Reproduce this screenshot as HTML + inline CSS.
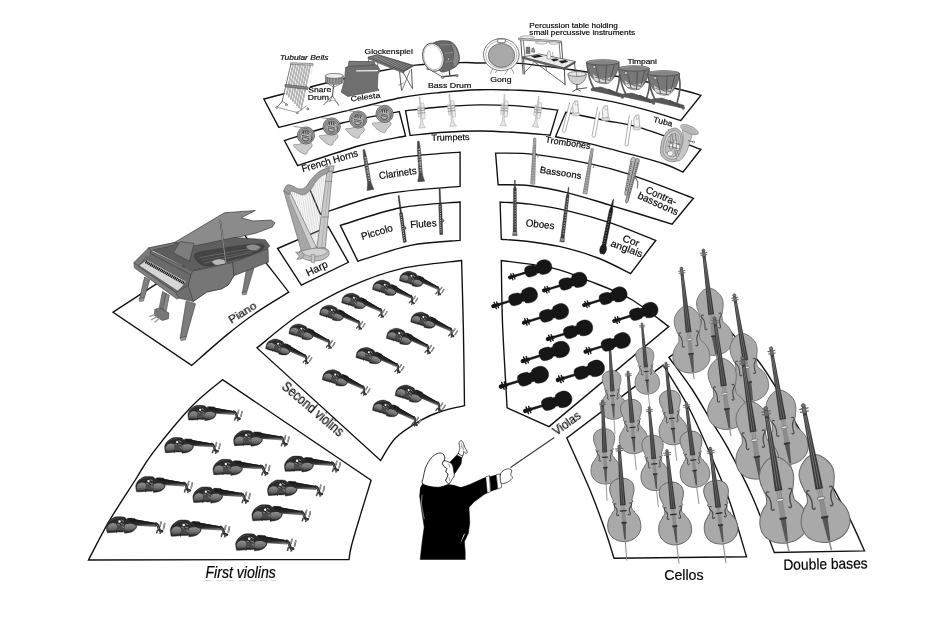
<!DOCTYPE html>
<html><head><meta charset="utf-8"><title>Orchestra layout</title>
<style>html,body{margin:0;padding:0;background:#fff;}body{width:933px;height:621px;overflow:hidden;font-family:"Liberation Sans",sans-serif;}svg{display:block;}</style>
</head><body>
<svg width="933" height="621" viewBox="0 0 933 621" font-family="'Liberation Sans', sans-serif">
<rect width="933" height="621" fill="#fff"/>
<g id="boxes" fill="none" stroke="#111" stroke-width="1.38" stroke-linejoin="miter">
<path d="M278.8 127.4C289.5 124.8 322.6 116.5 342.9 111.6 C363.2 106.7 384.4 101.0 400.6 97.8 C416.8 94.6 426.8 93.8 440.0 92.5 C453.2 91.2 466.7 90.2 480.0 89.8 C493.3 89.4 507.4 89.8 520.0 90.3 C532.5 90.8 541.0 91.2 555.3 92.9 C569.5 94.6 590.9 97.7 605.5 100.4 C620.1 103.1 630.7 105.9 643.2 109.2 C655.8 112.5 674.5 118.6 680.8 120.5L700.9 95.4C698.4 94.7 696.0 93.5 685.9 91.0 C675.8 88.5 658.4 84.0 640.0 80.5 C621.6 77.0 595.6 73.1 575.4 70.3 C555.2 67.5 534.8 64.6 518.9 63.4 C503.0 62.2 489.7 63.1 480.0 63.0 C470.3 62.9 471.6 62.2 460.9 62.6 C450.2 63.0 430.0 63.5 415.7 65.1 C401.4 66.7 389.3 69.2 375.0 72.0 C360.7 74.8 348.5 77.5 330.0 82.0 C311.5 86.5 274.8 96.2 263.8 99.0Z"/>
<path d="M284.4 140.5C294.0 137.6 322.9 127.8 342.0 123.0 C361.1 118.2 389.8 113.5 399.3 111.6L405.6 136.0C398.1 137.6 378.4 140.6 360.4 145.5 C342.4 150.4 308.1 162.2 297.7 165.6Z"/>
<path d="M405.6 110.8C411.3 110.2 427.6 108.0 440.0 107.0 C452.4 106.0 466.7 105.1 480.0 104.9 C493.3 104.8 507.1 105.2 520.0 106.1 C533.0 107.0 551.4 109.4 557.7 110.1L550.1 135.2C545.1 134.8 531.7 133.4 520.0 132.7 C508.3 132.0 492.5 131.1 480.0 131.0 C467.5 130.9 456.6 131.5 445.0 132.2 C433.4 132.9 415.9 134.9 410.1 135.4Z"/>
<path d="M565.8 112.3C572.4 113.7 593.1 118.0 605.5 120.5 C617.9 123.0 624.1 122.8 640.0 127.6 C655.9 132.4 690.8 145.7 700.9 149.3L682.9 172.2C680.0 170.9 673.9 167.3 665.8 164.5 C657.6 161.7 646.5 158.6 634.0 155.2 C621.5 151.8 603.6 146.9 590.5 143.8 C577.4 140.7 561.3 137.9 555.5 136.7Z"/>
<path d="M308.6 186.6L320.3 214.1C331.2 210.8 362.2 198.6 385.5 194.0 C408.8 189.4 447.7 187.7 460.1 186.4L460.1 152.1C450.2 153.0 421.4 154.3 400.6 157.6 C379.8 160.9 347.2 169.4 335.3 172.1 C323.4 174.8 330.1 173.5 329.0 173.8"/>
<path d="M340.3 225.4C350.4 222.5 380.6 211.7 400.6 207.8 C420.6 203.9 450.2 203.0 460.1 202.0L460.1 240.4C451.9 241.2 427.6 241.9 410.6 245.4 C393.6 248.9 366.7 258.7 357.9 261.3Z"/>
<path d="M277.6 248.5L328.3 226.6L348.4 262.3L301.4 285.1Z"/>
<path d="M495.6 153.1C502.0 153.3 518.2 152.6 534.0 154.4 C549.8 156.2 574.4 160.5 590.5 163.9 C606.6 167.3 613.5 169.0 630.6 174.7 C647.8 180.4 682.9 194.4 693.4 198.3L672.1 224.1C661.9 221.0 628.0 210.5 610.6 205.3 C593.2 200.1 581.3 196.1 567.9 192.8 C554.5 189.5 541.8 187.0 530.2 185.7 C518.6 184.3 503.5 184.9 498.1 184.7Z"/>
<path d="M500.1 202.1C505.1 202.4 518.9 202.6 530.2 204.1 C541.5 205.6 554.5 207.7 567.9 210.8 C581.3 213.9 596.0 218.0 610.6 222.9 C625.2 227.8 648.2 237.6 655.7 240.5L630.6 273.6C625.2 271.0 609.7 262.5 598.0 258.0 C586.3 253.5 571.6 249.4 560.3 246.7 C549.0 244.0 540.0 242.9 530.2 241.7 C520.4 240.4 506.1 239.6 501.3 239.2Z"/>
<path d="M113.1 312.2L240.1 229.4L288.8 292.2C283.4 295.6 266.8 305.3 256.5 312.4 C246.2 319.5 238.0 325.8 227.2 334.6 C216.4 343.4 197.5 360.3 191.6 365.4Z"/>
<path d="M257.0 347.9C264.2 342.2 284.6 324.2 300.2 314.0 C315.8 303.8 333.7 293.9 350.4 286.4 C367.1 278.9 382.1 273.1 400.6 268.8 C419.1 264.5 451.4 261.9 461.6 260.5C461.9 272.1 462.9 306.1 463.4 330.3 C463.9 354.5 464.3 393.1 464.5 405.7C460.6 406.7 448.1 409.1 440.8 411.5 C433.5 413.9 428.2 415.9 420.7 420.3 C413.2 424.7 402.3 431.2 395.6 437.9 C388.9 444.6 383.1 456.7 380.6 460.5Z"/>
<path d="M222.5 379.7C217.2 384.4 202.0 395.5 190.4 407.7 C178.8 419.9 162.0 440.8 152.8 452.9 C143.6 464.9 142.6 468.6 135.3 480.0 C128.0 491.4 116.8 508.1 109.0 521.4 C101.2 534.7 91.9 553.6 88.5 560.0L349.0 559.5C349.4 557.2 349.6 552.9 351.5 545.5 C353.4 538.1 357.0 526.3 360.3 515.4 C363.6 504.5 369.3 486.1 371.1 480.3Z"/>
<path d="M501.3 260.5C509.9 261.8 537.9 264.6 552.8 268.1 C567.6 271.6 577.4 276.2 590.4 281.4 C603.4 286.5 617.5 291.5 630.6 299.0 C643.7 306.5 662.4 322.0 668.8 326.6L549.0 426.6L507.1 407.8C506.4 394.1 503.6 349.9 502.6 325.3 C501.6 300.8 501.5 271.3 501.3 260.5Z"/>
<path d="M663.2 365.1C667.7 372.6 681.4 393.3 690.0 410.0 C698.6 426.7 708.4 449.8 715.1 465.3 C721.8 480.8 725.0 487.8 730.2 503.0 C735.4 518.2 743.8 547.8 746.5 556.8L614.0 558.3C612.5 553.7 609.2 541.8 605.2 530.5 C601.2 519.2 596.5 505.7 590.1 490.3 C583.7 474.9 570.7 446.7 566.8 438.0Z"/>
<path d="M669.0 357.5C672.9 362.9 685.6 379.6 692.5 390.0 C699.4 400.4 704.7 410.4 710.6 420.0 C716.5 429.6 720.8 435.0 727.7 447.7 C734.6 460.4 744.2 478.5 752.0 496.0 C759.8 513.5 770.6 543.1 774.3 552.5L864.5 550.9C862.2 545.9 855.9 531.1 850.7 520.6 C845.5 510.1 842.3 504.2 833.1 487.9 C823.9 471.6 805.1 439.5 795.5 422.6 C785.9 405.8 781.8 397.2 775.5 386.8 C769.2 376.4 764.8 369.1 757.9 360.5 C751.0 351.9 740.6 342.2 734.1 335.4 C727.6 328.6 721.6 322.2 719.1 319.6Z"/>
</g>
<defs>
<linearGradient id="vg" x1="0" y1="0" x2="0" y2="1"><stop offset="0" stop-color="#8e8e8e"/><stop offset="0.6" stop-color="#717171"/><stop offset="1" stop-color="#484848"/></linearGradient>
<linearGradient id="vn" x1="0" y1="0" x2="0.12" y2="1"><stop offset="0" stop-color="#1a1a1a"/><stop offset="0.7" stop-color="#2a2a2a"/><stop offset="1" stop-color="#7a7a7a"/></linearGradient>
<g id="violin">
<path d="M0,9 C0.8,6 2.2,4.2 3.6,3.2 C5.5,1.6 7.5,0.4 9.5,0.2 L13,0.2 C14.5,0.2 16,0.4 17,0.8 L18.8,2.4 C20,1.6 21.5,1.5 22.5,1.6 L26.6,1.8 C28,3.5 28.6,5.5 28.4,7.6 C28.3,9.4 28,10.4 27.6,11 C26.5,12.8 25,13.8 23.5,14.3 C22,14.9 20.5,15.2 19,15.3 L17,15.6 L16.6,13.8 L15.6,14.4 C13.5,14.6 12,14.4 10.2,14.3 L9.6,15.2 L8.6,14.6 C7,14.9 5,15 3.4,15 L0.8,15 C0.3,13 0,11 0,9Z" fill="#2b2b2b" stroke="#1c1c1c" stroke-width="0.4"/>
<path d="M1,10 C1.5,8 3,6.6 5.2,6.2 C7.2,5.9 9.2,6.6 9.8,8 C10.2,9.5 9.9,11.6 9,12.8 C7,13.5 4,13.7 1.6,13.4 C1,12.5 0.9,11 1,10Z" fill="url(#vg)"/>
<path d="M17.4,7.8 C19,6.8 22,6.6 24.6,6.9 C26.6,7.2 27.7,8.1 27.4,9.7 C27,11.6 25,12.8 23,13.3 C21,13.7 19,13.7 17.7,13.2 C16.9,11.6 16.9,9.4 17.4,7.8Z" fill="url(#vg)"/>
<path d="M10,8 L17.2,7.9 L17.4,13 L9.4,12.8Z" fill="#4a4a4a"/>
<path d="M3.6,4 C6,2 9,1.2 12,1.3 M20,2.6 C22,2.2 24.5,2.3 26.4,2.8" stroke="#555" stroke-width="0.6" fill="none"/>
<path d="M19.6,1.5 L47.6,6.3 L46.2,9.8 L28.4,8.6 C26,8.2 22,6 19.6,1.5Z" fill="url(#vn)"/>
<path d="M21,2.2 L47,6.8" stroke="#1a1a1a" stroke-width="1.3" fill="none"/>
<circle cx="12.3" cy="4.7" r="1.15" fill="#f4f4f4"/>
<path d="M14.2,3.4 L16.2,4.6 M13.6,6.6 L16.2,7.4 M10.2,6.9 L12.2,7.6 M15,9.4 L16.6,10.6" stroke="#a8a8a8" stroke-width="0.7" fill="none" stroke-linecap="round"/>
<path d="M46,6.6 C48.2,7.6 48.6,9.6 49,11.4 C49.4,13 50.4,14 51.8,13.6" fill="none" stroke="#2e2e2e" stroke-width="2.6" stroke-linecap="round"/>
<path d="M47,7.6 C48,8.6 48.2,10 48.7,11.6" fill="none" stroke="#8a8a8a" stroke-width="0.6"/>
<path d="M50.8,5.2 L50,8.8 M54.2,6.6 L53.2,11.2 M47.6,12.6 L46.8,15 M50.6,13.6 L50,15.6" stroke="#4a4a4a" stroke-width="1.5" stroke-linecap="round" fill="none"/>
<path d="M50.8,5.2 L50,8.8 M54.2,6.6 L53.2,11.2" stroke="#cfcfcf" stroke-width="0.6" stroke-linecap="round" fill="none"/>
</g>
<g id="viola" fill="#161616" stroke="#161616">
<path d="M17,-1 C17,-4.8 19.5,-5.8 22.5,-5.8 C25,-5.8 26.6,-5.4 27.6,-5.2 L28.2,-4.3 C29,-4 30.4,-4 31.2,-4.6 L31.6,-5.9 C33,-6.9 35,-7.4 37.6,-7.4 C42.4,-7.4 45.3,-4 45.3,0 C45.3,4 42.4,7.4 37.6,7.4 C35,7.4 33,6.9 31.6,5.9 L31.2,4.6 C30.4,4 29,4 28.2,4.3 L27.6,5.2 C26.6,5.4 25,5.8 22.5,5.8 C19.5,5.8 17,4.8 17,1 Z" stroke-width="0.4"/>
<path d="M6.5,-1 L18,-1 L18,1 L6.5,1Z" stroke-width="0.3"/>
<path d="M7,-1.3 L1.8,-1.6 C-0.6,-1.7 -0.6,1.7 1.8,1.6 L7,1.3Z" stroke-width="0.3"/>
<path d="M2.6,-3.3 L2.9,3.3 M5,-3 L5.2,3" stroke-width="1.3" stroke-linecap="round" fill="none"/>
<circle cx="0.8" cy="0" r="1.5"/>
</g>
<g id="cello">
<path d="M0,94 L0.3,115" stroke="#8a8a8a" stroke-width="1" fill="none"/>
<path d="M0,33 C4.5,33 11.6,35 12.1,43 C12.4,48.5 9.8,52 9.2,55 L10.1,56.4 C8.4,58 8,61 8.6,63.5 C9,65 10,66 11,66.4 L11.3,67.9 C14.6,71 16.5,75 16.5,81 C16.5,90 9,96 0,96 C-9,96 -16.5,90 -16.5,81 C-16.5,75 -14.6,71 -11.3,67.9 L-11,66.4 C-10,66 -9,65 -8.6,63.5 C-8,61 -8.4,58 -10.1,56.4 L-9.2,55 C-9.8,52 -12.4,48.5 -12.1,43 C-11.6,35 -4.5,33 0,33Z" fill="#a9a9a9" stroke="#666" stroke-width="0.95"/>
<path d="M-6.4,58.4 C-8.6,56.8 -9.4,59.6 -7.9,60.9 C-6.2,62.6 -5.8,65.8 -6.7,68 C-7.3,70 -4.9,70.7 -4.7,68.8" fill="none" stroke="#474747" stroke-width="1.05"/>
<path d="M6.4,58.4 C8.6,56.8 9.4,59.6 7.9,60.9 C6.2,62.6 5.8,65.8 6.7,68 C7.3,70 4.9,70.7 4.7,68.8" fill="none" stroke="#474747" stroke-width="1.05"/>
<path d="M-1.8,77 L1.8,77 L0.8,94 L-0.8,94Z" fill="#555"/>
<path d="M-1.4,65.5 L1.4,65.5 L1.6,77 L-1.6,77Z" fill="#8e8e8e" stroke="#777" stroke-width="0.3"/>
<path d="M-1.5,6 L1.5,6 L2.8,60 L-2.8,60Z" fill="#363636"/>
<path d="M-0.5,8 L-0.9,59 M0.5,8 L0.9,59" stroke="#8a8a8a" stroke-width="0.5" fill="none"/>
<path d="M-1.1,60 L-1.2,65.5 M0,60 L0,65.5 M1.1,60 L1.2,65.5" stroke="#777" stroke-width="0.45" fill="none"/>
<path d="M-3.4,65.5 L3.4,65.5" stroke="#2e2e2e" stroke-width="1.4"/>
<path d="M-2.5,77.3 L2.5,77.3" stroke="#2e2e2e" stroke-width="1.6"/>
<path d="M0,0 C1.8,0 1.8,2.6 0,2.6 C-1.8,2.6 -1.8,0 0,0Z M-1.3,2.6 L1.3,2.6 L1.3,6.5 L-1.3,6.5Z" fill="#777" stroke="#444" stroke-width="0.6"/>
<path d="M-3.6,3.6 L3.6,3.6 M-3.4,5.6 L3.4,5.6" stroke="#666" stroke-width="1" stroke-linecap="round"/>
</g>
<g id="bass">
<path d="M0,106 L0.3,113.5" stroke="#8a8a8a" stroke-width="1.1" fill="none"/>
<path d="M0,39.5 C3,39.5 5.5,41 8,43.5 C11.2,46.8 13.3,50 13.3,55 C13.3,60 11.4,63.5 11.2,66 L10.4,67.2 C10.2,70 10.4,73 11,74.8 L11.9,75.8 C15.5,79.5 18.6,84 18.6,91 C18.6,101 10,107 0,107 C-10,107 -18.6,101 -18.6,91 C-18.6,84 -15.5,79.5 -11.9,75.8 L-11,74.8 C-10.4,73 -10.2,70 -10.4,67.2 L-11.2,66 C-11.4,63.5 -13.3,60 -13.3,55 C-13.3,50 -11.2,46.8 -8,43.5 C-5.5,41 -3,39.5 0,39.5Z" fill="#a9a9a9" stroke="#6a6a6a" stroke-width="0.8"/>
<path d="M-7.6,66 C-9.8,64.4 -10.8,67.2 -9.2,68.6 C-7.4,70.6 -7,75.4 -7.8,78.5 C-8.4,80.5 -6,81.1 -5.8,79.3" fill="none" stroke="#4a4a4a" stroke-width="1.05"/>
<path d="M7.6,66 C9.8,64.4 10.8,67.2 9.2,68.6 C7.4,70.6 7,75.4 7.8,78.5 C8.4,80.5 6,81.1 5.8,79.3" fill="none" stroke="#4a4a4a" stroke-width="1.05"/>
<path d="M-2.2,87.5 L2.2,87.5 L0.9,106 L-0.9,106Z" fill="#565656"/>
<path d="M-1.6,73 L1.6,73 L1.9,87.5 L-1.9,87.5Z" fill="#8e8e8e" stroke="#777" stroke-width="0.3"/>
<path d="M-1.5,7 L1.5,7 L2.9,66 L-2.9,66Z" fill="#383838"/>
<path d="M-0.5,9 L-1,65 M0.5,9 L1,65" stroke="#8c8c8c" stroke-width="0.5" fill="none"/>
<path d="M-1.4,66 L-1.5,73 M0,66 L0,73 M1.4,66 L1.5,73" stroke="#7a7a7a" stroke-width="0.5" fill="none"/>
<ellipse cx="0" cy="73.2" rx="3.1" ry="1.1" fill="#e2e2e2" stroke="#555" stroke-width="0.5"/>
<path d="M-2.8,87.8 L2.8,87.8" stroke="#333" stroke-width="1.5"/>
<path d="M0,0 C2,0 2,2.8 0,2.8 C-2,2.8 -2,0 0,0Z M-1.3,2.8 L1.3,2.8 L1.3,7.5 L-1.3,7.5Z" fill="#777" stroke="#444" stroke-width="0.6"/>
<path d="M-3.2,3.8 L3.2,3.8 M-3,6 L3,6" stroke="#666" stroke-width="1" stroke-linecap="round"/>
</g>
</defs>
<g id="strings">
<use href="#violin" transform="translate(187.90 405.10) rotate(0.00) scale(0.9982)"/>
<use href="#violin" transform="translate(233.60 430.30) rotate(0.00) scale(1.0219)"/>
<use href="#violin" transform="translate(164.60 437.30) rotate(0.00) scale(1.0219)"/>
<use href="#violin" transform="translate(213.00 459.10) rotate(0.00) scale(1.0456)"/>
<use href="#violin" transform="translate(284.40 455.90) rotate(0.00) scale(1.0310)"/>
<use href="#violin" transform="translate(135.70 476.20) rotate(0.00) scale(1.0438)"/>
<use href="#violin" transform="translate(192.90 486.70) rotate(0.00) scale(1.0547)"/>
<use href="#violin" transform="translate(267.50 479.70) rotate(0.00) scale(1.0493)"/>
<use href="#violin" transform="translate(251.90 504.60) rotate(0.00) scale(1.0766)"/>
<use href="#violin" transform="translate(106.30 516.50) rotate(0.00) scale(1.0766)"/>
<use href="#violin" transform="translate(170.30 519.80) rotate(0.00) scale(1.0912)"/>
<use href="#violin" transform="translate(235.60 533.60) rotate(0.00) scale(1.1095)"/>
<use href="#violin" transform="translate(403.11 268.57) rotate(20.00) scale(0.8410)"/>
<use href="#violin" transform="translate(376.25 277.34) rotate(20.00) scale(0.8503)"/>
<use href="#violin" transform="translate(345.38 290.42) rotate(20.00) scale(0.8559)"/>
<use href="#violin" transform="translate(323.28 302.42) rotate(20.00) scale(0.8559)"/>
<use href="#violin" transform="translate(292.72 321.19) rotate(20.00) scale(0.8652)"/>
<use href="#violin" transform="translate(269.43 336.28) rotate(20.00) scale(0.8689)"/>
<use href="#violin" transform="translate(414.58 309.35) rotate(20.00) scale(0.8782)"/>
<use href="#violin" transform="translate(390.26 325.39) rotate(20.00) scale(0.8968)"/>
<use href="#violin" transform="translate(359.88 344.47) rotate(20.00) scale(0.9024)"/>
<use href="#violin" transform="translate(326.26 366.79) rotate(20.00) scale(0.8968)"/>
<use href="#violin" transform="translate(399.26 382.03) rotate(20.00) scale(0.9434)"/>
<use href="#violin" transform="translate(376.52 397.14) rotate(20.00) scale(0.9117)"/>
<use href="#cello" transform="translate(609.70 345.10) rotate(-3.28) scale(0.7743)"/>
<use href="#cello" transform="translate(641.90 322.80) rotate(-5.15) scale(0.7465)"/>
<use href="#cello" transform="translate(627.90 370.90) rotate(-4.67) scale(0.8646)"/>
<use href="#cello" transform="translate(665.80 361.90) rotate(-6.21) scale(0.8677)"/>
<use href="#cello" transform="translate(602.40 399.80) rotate(-2.50) scale(0.8782)"/>
<use href="#cello" transform="translate(649.10 406.50) rotate(-5.11) scale(0.8783)"/>
<use href="#cello" transform="translate(686.20 401.90) rotate(-6.97) scale(0.8953)"/>
<use href="#cello" transform="translate(619.00 445.10) rotate(-3.72) scale(1.0065)"/>
<use href="#cello" transform="translate(666.80 449.40) rotate(-5.95) scale(0.9984)"/>
<use href="#cello" transform="translate(710.10 447.10) rotate(-7.66) scale(1.0178)"/>
<use href="#bass" transform="translate(703.20 249.00) rotate(-6.98) scale(1.0004)"/>
<use href="#bass" transform="translate(681.30 267.10) rotate(-6.41) scale(0.9948)"/>
<use href="#bass" transform="translate(734.10 293.90) rotate(-9.65) scale(1.0197)"/>
<use href="#bass" transform="translate(714.30 316.70) rotate(-7.78) scale(1.0609)"/>
<use href="#bass" transform="translate(770.80 346.90) rotate(-9.51) scale(1.1140)"/>
<use href="#bass" transform="translate(742.30 356.50) rotate(-8.28) scale(1.1557)"/>
<use href="#bass" transform="translate(765.30 406.70) rotate(-9.08) scale(1.2893)"/>
<use href="#bass" transform="translate(803.00 403.80) rotate(-10.86) scale(1.3143)"/>
<use href="#viola" transform="translate(509.28 277.63) rotate(-17.00) scale(0.9745)"/>
<use href="#viola" transform="translate(543.20 290.77) rotate(-17.00) scale(1.0042)"/>
<use href="#viola" transform="translate(583.40 305.33) rotate(-17.00) scale(1.0019)"/>
<use href="#viola" transform="translate(613.51 321.16) rotate(-17.00) scale(1.0201)"/>
<use href="#viola" transform="translate(492.51 306.36) rotate(-17.00) scale(1.0315)"/>
<use href="#viola" transform="translate(523.12 322.87) rotate(-17.00) scale(1.0430)"/>
<use href="#viola" transform="translate(547.02 339.25) rotate(-17.00) scale(1.0475)"/>
<use href="#viola" transform="translate(584.72 351.85) rotate(-17.00) scale(1.0475)"/>
<use href="#viola" transform="translate(521.94 361.29) rotate(-17.00) scale(1.0886)"/>
<use href="#viola" transform="translate(557.04 380.19) rotate(-17.00) scale(1.0886)"/>
<use href="#viola" transform="translate(500.05 386.81) rotate(-17.00) scale(1.1114)"/>
<use href="#viola" transform="translate(524.44 411.19) rotate(-17.00) scale(1.0886)"/>
</g>
<g id="piano">
<polygon points="246.5,269.6 253.9,268.2 246.9,291.6 242.3,293.0" fill="#7c7c7c" stroke="#3c3c3c" stroke-width="0.60" stroke-linejoin="round" />
<polygon points="241.8,292.5 246.9,291.6 246.5,294.4 242.7,294.8" fill="#999" stroke="#3c3c3c" stroke-width="0.50" stroke-linejoin="round" />
<polygon points="144.6,277.1 149.8,279.9 144.2,298.1 139.5,299.0" fill="#808080" stroke="#3c3c3c" stroke-width="0.60" stroke-linejoin="round" />
<polygon points="139.0,298.6 144.2,297.6 143.7,300.9 139.5,301.4" fill="#999" stroke="#3c3c3c" stroke-width="0.50" stroke-linejoin="round" />
<polygon points="162.4,291.6 166.1,293.4 162.4,309.8 159.1,308.4" fill="#7a7a7a" stroke="#3c3c3c" stroke-width="0.50" stroke-linejoin="round" />
<polygon points="166.1,293.4 169.4,295.3 166.1,311.7 162.8,309.8" fill="#8a8a8a" stroke="#3c3c3c" stroke-width="0.50" stroke-linejoin="round" />
<polygon points="154.9,309.3 160.0,307.9 168.9,313.1 168.4,318.7 162.4,320.5 154.4,315.4" fill="#777" stroke="#3c3c3c" stroke-width="0.60" stroke-linejoin="round" />
<polyline points="154.9,314.5 149.8,316.3" fill="none" stroke="#999" stroke-width="1.30" stroke-linecap="round" stroke-linejoin="round" />
<polyline points="156.8,316.8 151.6,319.6" fill="none" stroke="#999" stroke-width="1.30" stroke-linecap="round" stroke-linejoin="round" />
<polyline points="159.1,318.7 154.9,321.9" fill="none" stroke="#999" stroke-width="1.30" stroke-linecap="round" stroke-linejoin="round" />
<polygon points="186.2,300.9 195.5,303.7 186.2,336.9 180.1,338.3" fill="#7c7c7c" stroke="#3c3c3c" stroke-width="0.60" stroke-linejoin="round" />
<polygon points="180.1,337.8 186.2,336.4 185.7,339.7 181.1,340.6" fill="#999" stroke="#3c3c3c" stroke-width="0.50" stroke-linejoin="round" />
<polygon points="174.5,242.5 224.3,212.8 255.3,210.5 241.3,217.8 253.0,221.0 271.2,220.1 275.0,222.9 272.2,227.1 255.8,233.2 234.8,237.8 195.1,246.7" fill="#8b8b8b" stroke="#3c3c3c" stroke-width="0.70" stroke-linejoin="round" />
<polygon points="148.4,248.1 174.5,242.5 195.1,245.8 234.8,237.4 265.2,239.7 269.8,245.8 265.2,250.9 232.5,262.1 192.7,270.5 153.0,250.5" fill="#5e5e5e" stroke="#3c3c3c" stroke-width="0.60" stroke-linejoin="round" />
<path d="M195.1 254.2 C198.2 251.2 213.0 249.8 223.1 248.1 C233.2 246.4 249.0 244.1 255.8 243.9 C262.7 243.7 264.2 245.2 264.2 246.7 C264.2 248.2 261.9 250.4 255.8 252.8 C249.7 255.2 236.3 259.0 227.8 261.2 C219.2 263.4 209.9 267.0 204.4 265.9 C199.0 264.7 192.0 257.2 195.1 254.2 Z" fill="#444" stroke="#333" stroke-width="0.40" stroke-linejoin="round" stroke-linecap="round" />
<polyline points="199.7,257.5 255.8,247.7" fill="none" stroke="#888" stroke-width="0.50" stroke-linecap="round" stroke-linejoin="round" />
<polyline points="202.1,260.3 258.1,250.0" fill="none" stroke="#777" stroke-width="0.50" stroke-linecap="round" stroke-linejoin="round" />
<polyline points="204.4,263.1 251.1,252.8" fill="none" stroke="#888" stroke-width="0.50" stroke-linecap="round" stroke-linejoin="round" />
<path d="M246.5 245.8 C247.5 244.9 252.5 244.1 254.9 244.4 C257.2 244.6 260.3 246.2 260.5 247.2 C260.6 248.2 257.8 250.1 255.8 250.5 C253.9 250.8 250.4 250.3 248.8 249.5 C247.2 248.7 245.5 246.6 246.5 245.8 Z" fill="#8e8e8e" stroke="#444" stroke-width="0.40" stroke-linejoin="round" stroke-linecap="round" />
<path d="M211.9 261.2 C212.5 260.2 216.9 258.9 219.4 258.9 C221.9 258.9 226.2 260.3 226.8 261.2 C227.5 262.1 225.0 263.8 223.1 264.5 C221.2 265.1 217.5 265.5 215.6 264.9 C213.8 264.4 211.3 262.2 211.9 261.2 Z" fill="#b8b8b8" stroke="#444" stroke-width="0.40" stroke-linejoin="round" stroke-linecap="round" />
<polygon points="148.4,247.9 174.5,242.5 175.0,244.8 151.2,250.5" fill="#777" stroke="#3c3c3c" stroke-width="0.50" stroke-linejoin="round" />
<polygon points="149.8,250.5 192.7,271.0 232.5,262.6 268.0,248.6 268.4,262.1 233.9,275.7 228.2,285.0 221.7,288.8 206.8,292.0 193.2,301.4 179.2,298.1 175.5,292.0 188.1,285.0 190.9,274.7 150.2,253.7" fill="#6f6f6f" stroke="#3c3c3c" stroke-width="0.70" stroke-linejoin="round" />
<polyline points="232.5,262.6 233.9,275.7" fill="none" stroke="#3c3c3c" stroke-width="0.60" stroke-linecap="round" stroke-linejoin="round" />
<polygon points="192.7,271.0 232.5,262.6 233.9,275.7 228.2,285.0 221.7,288.8 206.8,292.0 193.2,301.4 188.1,285.0 190.9,274.7" fill="#767676" stroke="#3c3c3c" stroke-width="0.60" stroke-linejoin="round" />
<polygon points="180.1,241.6 194.1,243.4 189.5,261.2 173.1,252.8" fill="#7d7d7d" stroke="#3c3c3c" stroke-width="0.60" stroke-linejoin="round" />
<polyline points="220.3,220.6 225.9,263.5" fill="none" stroke="#444" stroke-width="1.60" stroke-linecap="round" stroke-linejoin="round" />
<polyline points="220.3,220.6 225.9,263.5" fill="none" stroke="#9a9a9a" stroke-width="0.80" stroke-linecap="round" stroke-linejoin="round" />
<polygon points="133.9,262.6 148.4,247.9 151.2,250.9 138.1,266.3" fill="#7a7a7a" stroke="#3c3c3c" stroke-width="0.60" stroke-linejoin="round" />
<polygon points="138.1,266.3 150.2,253.3 190.9,275.2 188.1,285.5 175.5,292.5" fill="#6a6a6a" stroke="#3c3c3c" stroke-width="0.60" stroke-linejoin="round" />
<polygon points="139.0,265.4 147.0,259.8 186.7,281.8 177.8,291.1" fill="#d6d6d6" stroke="#3c3c3c" stroke-width="0.40" stroke-linejoin="round" />
<line x1="145.6" y1="261.7" x2="184.8" y2="283.6" stroke="#1c1c1c" stroke-width="3.1" stroke-dasharray="1.3 0.55"/>
<polygon points="133.9,262.6 138.1,266.3 175.5,292.5 179.2,298.1 176.9,299.0 134.3,267.7" fill="#808080" stroke="#3c3c3c" stroke-width="0.60" stroke-linejoin="round" />
</g>
<g id="harp">
<path d="M299.3 252.2 C299.8 250.5 302.5 248.9 305.6 248.0 C308.7 247.1 314.5 246.5 318.2 246.8 C321.9 247.0 326.1 248.2 327.8 249.7 C329.5 251.2 329.5 253.9 328.6 255.5 C327.7 257.2 325.1 258.8 322.4 259.7 C319.6 260.6 315.2 261.3 311.9 261.0 C308.6 260.7 304.8 259.5 302.7 258.1 C300.6 256.6 298.8 253.9 299.3 252.2 Z" fill="#bdbdbd" stroke="#6e6e6e" stroke-width="0.70" stroke-linejoin="round" stroke-linecap="round" />
<path d="M301.4 250.5 C302.3 249.3 308.0 248.2 311.9 248.0 C315.8 247.8 322.4 248.4 324.9 249.3 C327.3 250.1 327.7 251.9 326.5 253.0 C325.4 254.2 321.4 255.5 318.2 256.0 C314.9 256.4 309.7 256.5 306.9 255.5 C304.1 254.6 300.6 251.8 301.4 250.5 Z" fill="#d2d2d2" stroke="#6e6e6e" stroke-width="0.50" stroke-linejoin="round" stroke-linecap="round" />
<polygon points="295.5,252.2 301.4,251.8 304.3,254.7 301.4,258.9 296.8,259.3 299.3,256.0" fill="#b5b5b5" stroke="#6e6e6e" stroke-width="0.60" stroke-linejoin="round" />
<polygon points="311.0,254.7 314.8,254.3 314.4,263.1 311.5,262.3" fill="#c8c8c8" stroke="#6e6e6e" stroke-width="0.50" stroke-linejoin="round" />
<g stroke="#b0b0b0" stroke-width="0.45"><line x1="292.6" y1="191.4" x2="292.0" y2="196.7"/><line x1="294.6" y1="192.1" x2="293.7" y2="200.2"/><line x1="296.6" y1="192.9" x2="295.4" y2="203.6"/><line x1="298.5" y1="193.5" x2="297.0" y2="207.1"/><line x1="300.5" y1="194.0" x2="298.6" y2="210.5"/><line x1="302.5" y1="194.5" x2="300.3" y2="213.9"/><line x1="304.4" y1="194.2" x2="301.9" y2="217.2"/><line x1="306.4" y1="192.8" x2="303.3" y2="220.2"/><line x1="308.4" y1="191.5" x2="304.8" y2="223.3"/><line x1="310.3" y1="190.0" x2="306.3" y2="226.3"/><line x1="312.3" y1="187.1" x2="307.6" y2="229.1"/><line x1="314.3" y1="184.1" x2="308.9" y2="231.9"/><line x1="316.2" y1="181.3" x2="310.3" y2="234.6"/><line x1="318.2" y1="179.4" x2="311.7" y2="237.6"/><line x1="320.2" y1="177.6" x2="313.1" y2="240.6"/><line x1="322.1" y1="175.7" x2="314.6" y2="243.6"/><line x1="324.1" y1="174.7" x2="316.1" y2="246.7"/></g>
<polygon points="283.8,191.0 290.1,192.7 316.5,247.6 301.4,250.9" fill="#a6a6a6" stroke="#6e6e6e" stroke-width="0.70" stroke-linejoin="round" />
<polygon points="287.2,192.7 290.1,192.7 316.5,247.6 311.0,248.8" fill="#cfcfcf" stroke="#6e6e6e" stroke-width="0.40" stroke-linejoin="round" />
<polygon points="327.0,170.9 332.4,170.9 325.3,247.6 316.9,248.0" fill="#c9c9c9" stroke="#6e6e6e" stroke-width="0.70" stroke-linejoin="round" />
<polyline points="329.9,171.4 321.5,247.6" fill="none" stroke="#999" stroke-width="0.50" stroke-linecap="round" stroke-linejoin="round" />
<polygon points="325.7,166.3 334.1,165.9 333.2,170.9 326.5,171.4" fill="#c2c2c2" stroke="#6e6e6e" stroke-width="0.70" stroke-linejoin="round" />
<polyline points="325.7,181.4 332.0,181.4" fill="none" stroke="#6e6e6e" stroke-width="0.60" stroke-linecap="round" stroke-linejoin="round" />
<polyline points="322.4,217.0 328.6,217.0" fill="none" stroke="#6e6e6e" stroke-width="0.60" stroke-linecap="round" stroke-linejoin="round" />
<path d="M329.5 167.6 C327.9 168.2 323.2 169.1 320.3 170.9 C317.3 172.8 314.3 175.8 311.9 178.5 C309.4 181.1 307.7 185.1 305.6 186.9 C303.5 188.6 301.8 189.2 299.3 189.0 C296.9 188.7 293.1 185.7 290.9 185.2 C288.8 184.6 287.5 184.6 286.3 185.6 C285.1 186.6 284.2 190.1 283.8 191.0 L289.3 194.8 C289.7 194.2 290.5 191.3 291.8 191.0 C293.1 190.8 295.3 192.5 297.2 193.1 C299.2 193.8 301.3 195.3 303.5 194.8 C305.7 194.3 308.1 192.4 310.2 190.2 C312.3 188.0 314.0 183.9 316.1 181.4 C318.1 179.0 320.4 176.9 322.4 175.5 C324.3 174.2 326.9 173.5 327.8 173.0 Z" fill="#9e9e9e" stroke="#6e6e6e" stroke-width="0.7" stroke-linejoin="round"/>
</g>
<g id="conductor">
<path d="M510.5 467.5 L554.3 437.4" stroke="#3c3c3c" stroke-width="1.2" fill="none"/>
<polygon points="420.2,559.5 421.9,543.8 424.2,527.0 421.3,508.2 419.6,495.7 420.6,487.7 424.4,484.4 435.9,487.5 448.5,485.4 458.9,488.5 469.8,484.4 484.0,478.1 489.5,476.0 489.9,491.5 484.0,494.6 474.0,501.9 469.0,507.4 469.8,522.8 468.3,533.3 464.4,541.7 465.2,552.1 465.2,559.5" fill="#000" stroke="#000" stroke-width="0.50" stroke-linejoin="round" />
<polygon points="463.5,535.0 465.4,532.9 459.8,545.0" fill="#fff" stroke-linejoin="round" />
<polyline points="422.5,489.8 421.3,504.0 424.2,518.7" fill="none" stroke="#fff" stroke-width="0.50" stroke-linecap="round" stroke-linejoin="round" />
<polygon points="449.0,463.0 457.9,453.9 462.1,456.4 461.0,464.0 455.9,472.1 452.9,475.6 450.9,471.7" fill="#000" stroke="#000" stroke-width="0.50" stroke-linejoin="round" />
<polygon points="456.7,454.9 458.5,453.2 462.7,455.7 461.9,457.8" fill="#fff" stroke="#111" stroke-width="0.60" stroke-linejoin="round" />
<path d="M458.5 453.4 C457.9 452.2 459.7 450.3 459.8 448.5 C459.9 446.8 458.8 444.0 459.0 442.7 C459.3 441.4 460.6 440.5 461.4 440.6 C462.1 440.7 462.7 442.1 463.3 443.1 C463.8 444.1 464.0 445.3 464.6 446.8 C465.3 448.3 467.2 451.1 467.3 452.2 C467.5 453.3 466.0 453.3 465.4 453.2 C464.8 453.1 464.1 451.2 463.7 451.6 C463.3 452.0 463.8 455.4 462.9 455.7 C462.0 456.0 459.0 454.5 458.5 453.4 Z" fill="#fff" stroke="#111" stroke-width="0.70" stroke-linejoin="round" stroke-linecap="round" />
<polyline points="461.2,443.1 462.1,448.5" fill="none" stroke="#444" stroke-width="0.45" stroke-linecap="round" stroke-linejoin="round" />
<polyline points="462.9,445.6 463.7,450.5" fill="none" stroke="#444" stroke-width="0.45" stroke-linecap="round" stroke-linejoin="round" />
<path d="M422.3 483.3 C421.4 481.9 422.7 480.2 423.3 477.5 C423.9 474.8 424.4 470.4 425.8 467.1 C427.1 463.8 429.5 460.1 431.4 457.8 C433.3 455.5 435.4 454.3 437.2 453.6 C439.0 452.8 441.0 452.8 442.2 453.4 C443.5 453.9 444.4 455.8 444.7 457.0 C445.1 458.3 444.5 459.7 444.2 460.7 C443.8 461.7 442.7 462.3 442.6 463.2 C442.5 464.1 443.1 465.2 443.8 466.1 C444.4 467.0 446.3 467.5 446.7 468.4 C447.0 469.4 445.7 471.0 445.9 471.9 C446.1 472.8 447.8 473.1 448.0 474.0 C448.2 475.0 447.4 476.4 447.1 477.5 C446.7 478.6 445.6 479.8 445.9 480.8 C446.2 481.8 450.1 482.6 449.0 483.7 C447.9 484.8 442.7 486.8 439.3 487.2 C435.9 487.6 431.5 486.9 428.7 486.2 C425.9 485.6 423.2 484.8 422.3 483.3 Z" fill="#fff" stroke="#111" stroke-width="0.85" stroke-linejoin="round" stroke-linecap="round" />
<path d="M444.2 460.7 C445.2 460.5 447.6 461.3 449.0 462.1 C450.4 462.8 451.7 463.5 452.5 465.1 C453.3 466.8 453.5 469.9 453.8 471.7 C454.1 473.5 454.5 474.6 454.2 476.0 C453.9 477.3 452.8 478.3 451.9 479.6 C451.0 480.9 450.0 483.5 449.0 483.7 C448.0 483.9 446.2 481.8 445.9 480.8 C445.6 479.8 446.7 478.6 447.1 477.5 C447.4 476.4 448.2 475.0 448.0 474.0 C447.8 473.1 446.1 472.8 445.9 471.9 C445.7 471.0 447.0 469.4 446.7 468.4 C446.3 467.5 444.4 467.0 443.8 466.1 C443.1 465.2 442.5 464.1 442.6 463.2 C442.7 462.3 443.1 460.9 444.2 460.7 Z" fill="#fff" stroke="#111" stroke-width="0.75" stroke-linejoin="round" stroke-linecap="round" />
<polyline points="449.0,464.0 449.6,466.9" fill="none" stroke="#333" stroke-width="0.50" stroke-linecap="round" stroke-linejoin="round" />
<polyline points="449.0,477.5 449.6,480.4" fill="none" stroke="#333" stroke-width="0.50" stroke-linecap="round" stroke-linejoin="round" />
<g fill="#777"><circle cx="437.4" cy="477.5" r="0.25"/><circle cx="439.3" cy="480.4" r="0.25"/><circle cx="440.8" cy="478.5" r="0.25"/><circle cx="438.4" cy="482.3" r="0.25"/><circle cx="441.7" cy="481.4" r="0.25"/><circle cx="436.4" cy="480.4" r="0.25"/><circle cx="440.3" cy="483.3" r="0.25"/><circle cx="442.7" cy="483.8" r="0.25"/><circle cx="431.6" cy="466.9" r="0.25"/><circle cx="433.5" cy="464.0" r="0.25"/></g>
<polygon points="420.0,494.9 420.4,487.2 422.3,484.1 428.7,486.6 439.3,487.8 449.0,484.3 454.8,485.2 460.6,487.2 470.2,485.2 478.0,481.4 480.0,480.4 480.0,494.9" fill="#000" stroke-linejoin="round" />
<polygon points="485.7,476.8 489.5,475.6 490.3,491.9 487.2,492.7" fill="#fff" stroke="#000" stroke-width="0.50" stroke-linejoin="round" />
<polygon points="489.9,476.4 496.2,474.7 497.8,489.0 490.7,491.5" fill="#000" stroke-linejoin="round" />
<polygon points="496.2,474.7 500.3,473.9 501.6,487.3 497.8,489.0" fill="#fff" stroke="#111" stroke-width="0.60" stroke-linejoin="round" />
<path d="M500.3 474.7 C500.7 472.9 501.7 472.0 502.8 471.0 C504.0 470.0 506.0 469.0 507.4 468.9 C508.9 468.7 511.1 469.2 511.6 470.1 C512.2 471.1 510.7 473.5 510.8 474.7 C510.9 476.0 512.8 476.6 512.5 477.7 C512.1 478.8 510.2 480.5 508.7 481.4 C507.2 482.4 505.0 483.4 503.7 483.5 C502.4 483.7 501.3 483.7 500.8 482.3 C500.2 480.8 500.0 476.6 500.3 474.7 Z" fill="#fff" stroke="#111" stroke-width="0.70" stroke-linejoin="round" stroke-linecap="round" />
</g>
<g id="percussion">
<polyline points="312.1,64.6 306.3,106.1 308.6,109.0" fill="none" stroke="#666" stroke-width="0.70" stroke-linecap="round" stroke-linejoin="round" /><polygon points="291.2,64.3 312.4,64.9 307.3,108.0 298.3,110.9 283.5,98.1" fill="#fff" stroke-linejoin="round" /><polyline points="293.0,64.6 286.7,94.5" fill="none" stroke="#858585" stroke-width="1.50" stroke-linecap="round" stroke-linejoin="round" /><polyline points="293.0,64.6 286.7,94.5" fill="none" stroke="#cfcfcf" stroke-width="0.80" stroke-linecap="round" stroke-linejoin="round" /><polyline points="295.5,64.7 288.7,96.7" fill="none" stroke="#858585" stroke-width="1.50" stroke-linecap="round" stroke-linejoin="round" /><polyline points="295.5,64.7 288.7,96.7" fill="none" stroke="#cfcfcf" stroke-width="0.80" stroke-linecap="round" stroke-linejoin="round" /><polyline points="297.9,64.8 290.8,98.9" fill="none" stroke="#858585" stroke-width="1.50" stroke-linecap="round" stroke-linejoin="round" /><polyline points="297.9,64.8 290.8,98.9" fill="none" stroke="#cfcfcf" stroke-width="0.80" stroke-linecap="round" stroke-linejoin="round" /><polyline points="300.4,64.9 292.8,101.0" fill="none" stroke="#858585" stroke-width="1.50" stroke-linecap="round" stroke-linejoin="round" /><polyline points="300.4,64.9 292.8,101.0" fill="none" stroke="#cfcfcf" stroke-width="0.80" stroke-linecap="round" stroke-linejoin="round" /><polyline points="302.9,64.9 294.9,103.2" fill="none" stroke="#858585" stroke-width="1.50" stroke-linecap="round" stroke-linejoin="round" /><polyline points="302.9,64.9 294.9,103.2" fill="none" stroke="#cfcfcf" stroke-width="0.80" stroke-linecap="round" stroke-linejoin="round" /><polyline points="305.4,65.0 296.9,105.4" fill="none" stroke="#858585" stroke-width="1.50" stroke-linecap="round" stroke-linejoin="round" /><polyline points="305.4,65.0 296.9,105.4" fill="none" stroke="#cfcfcf" stroke-width="0.80" stroke-linecap="round" stroke-linejoin="round" /><polyline points="307.8,65.1 298.9,107.5" fill="none" stroke="#858585" stroke-width="1.50" stroke-linecap="round" stroke-linejoin="round" /><polyline points="307.8,65.1 298.9,107.5" fill="none" stroke="#cfcfcf" stroke-width="0.80" stroke-linecap="round" stroke-linejoin="round" /><polyline points="310.3,65.2 301.0,109.7" fill="none" stroke="#858585" stroke-width="1.50" stroke-linecap="round" stroke-linejoin="round" /><polyline points="310.3,65.2 301.0,109.7" fill="none" stroke="#cfcfcf" stroke-width="0.80" stroke-linecap="round" stroke-linejoin="round" /><polygon points="290.6,62.7 313.1,63.6 313.1,65.3 290.6,64.3" fill="#ccc" stroke="#666" stroke-width="0.60" stroke-linejoin="round" /><polygon points="285.1,84.5 307.9,87.1 307.9,89.4 285.1,86.8" fill="#8a8a8a" stroke="#444" stroke-width="0.60" stroke-linejoin="round" /><polyline points="290.9,64.0 282.2,101.3 277.1,107.4" fill="none" stroke="#666" stroke-width="0.90" stroke-linecap="round" stroke-linejoin="round" /><polyline points="282.2,101.3 287.7,104.8" fill="none" stroke="#666" stroke-width="0.70" stroke-linecap="round" stroke-linejoin="round" /><polyline points="306.3,106.1 297.3,112.5" fill="none" stroke="#666" stroke-width="0.70" stroke-linecap="round" stroke-linejoin="round" /><polyline points="277.1,107.4 297.3,112.5" fill="none" stroke="#666" stroke-width="0.60" stroke-linecap="round" stroke-linejoin="round" /><circle cx="276.8" cy="107.4" r="1.1" fill="#bbb" stroke="#555" stroke-width="0.5"/><circle cx="286.4" cy="104.8" r="1.1" fill="#bbb" stroke="#555" stroke-width="0.5"/><circle cx="297.3" cy="112.8" r="1.1" fill="#bbb" stroke="#555" stroke-width="0.5"/><circle cx="307.9" cy="109.0" r="1.1" fill="#bbb" stroke="#555" stroke-width="0.5"/>
<polyline points="333.7,84.5 332.4,96.4" fill="none" stroke="#555" stroke-width="1.10" stroke-linecap="round" stroke-linejoin="round" /><polyline points="332.4,95.8 323.7,104.8" fill="none" stroke="#555" stroke-width="0.80" stroke-linecap="round" stroke-linejoin="round" /><polyline points="332.4,95.8 338.5,105.1" fill="none" stroke="#555" stroke-width="0.80" stroke-linecap="round" stroke-linejoin="round" /><polyline points="332.4,95.8 329.8,101.6" fill="none" stroke="#555" stroke-width="0.70" stroke-linecap="round" stroke-linejoin="round" /><path d="M323.7 104.8 C324.3 104.3 325.7 102.3 327.2 101.6 C328.7 100.8 331.0 100.2 332.7 100.3 C334.4 100.4 336.2 101.4 337.2 102.2 C338.2 103.1 338.5 104.9 338.8 105.5" fill="none" stroke="#888" stroke-width="0.60" stroke-linejoin="round" stroke-linecap="round" /><polyline points="326.6,82.9 333.7,87.1 342.0,83.3" fill="none" stroke="#555" stroke-width="0.70" stroke-linecap="round" stroke-linejoin="round" /><path d="M325.3 75.9 L325.6 82.0 C329.5 85.2 339.1 85.2 343.0 82.0 L343.3 75.9 Z" fill="#9a9a9a" stroke="#555" stroke-width="0.6"/><g stroke="#444" stroke-width="0.5"><line x1="327.2" y1="77.7" x2="327.2" y2="82.7"/><line x1="329.8" y1="77.8" x2="329.8" y2="83.0"/><line x1="332.7" y1="78.0" x2="332.7" y2="83.4"/><line x1="335.9" y1="78.0" x2="335.9" y2="83.4"/><line x1="338.8" y1="77.8" x2="338.8" y2="83.0"/><line x1="341.4" y1="77.7" x2="341.4" y2="82.7"/></g><ellipse cx="334.3" cy="75.9" rx="9" ry="2.5" fill="#eee" stroke="#555" stroke-width="0.7"/>
<polygon points="349.0,61.3 374.1,61.8 375.0,64.6 377.4,65.6 380.3,70.4 378.0,74.3 377.4,87.8 379.0,90.3 348.0,96.5 341.3,92.1 344.6,79.1 345.6,67.5 348.5,66.6" fill="#6f6f6f" stroke="#4a4a4a" stroke-width="0.60" stroke-linejoin="round" /><polygon points="349.0,61.3 374.1,61.8 375.0,64.6 348.5,66.6" fill="#787878" stroke="#4a4a4a" stroke-width="0.40" stroke-linejoin="round" /><polyline points="345.6,67.5 348.5,66.6 375.3,65.0" fill="none" stroke="#555" stroke-width="0.50" stroke-linecap="round" stroke-linejoin="round" /><polyline points="341.3,92.1 348.0,96.5" fill="none" stroke="#555" stroke-width="0.50" stroke-linecap="round" stroke-linejoin="round" /><polygon points="356.2,70.2 378.0,69.9 378.0,71.2 356.2,71.6" fill="#efefef" stroke-linejoin="round" />
<polyline points="369.0,58.2 368.4,61.7" fill="none" stroke="#444" stroke-width="0.70" stroke-linecap="round" stroke-linejoin="round" /><polyline points="378.0,60.4 377.7,66.2" fill="none" stroke="#444" stroke-width="0.70" stroke-linecap="round" stroke-linejoin="round" /><polyline points="399.6,72.0 401.5,90.3" fill="none" stroke="#444" stroke-width="0.90" stroke-linecap="round" stroke-linejoin="round" /><polyline points="403.1,72.3 412.1,88.1" fill="none" stroke="#444" stroke-width="0.80" stroke-linecap="round" stroke-linejoin="round" /><polyline points="411.5,69.1 412.4,88.4" fill="none" stroke="#444" stroke-width="0.90" stroke-linecap="round" stroke-linejoin="round" /><polyline points="409.9,70.7 402.2,90.0" fill="none" stroke="#444" stroke-width="0.70" stroke-linecap="round" stroke-linejoin="round" /><polyline points="398.6,85.2 403.4,82.9" fill="none" stroke="#444" stroke-width="0.60" stroke-linecap="round" stroke-linejoin="round" /><polygon points="368.1,57.2 377.7,54.6 414.1,65.6 403.8,71.7" fill="#5a5a5a" stroke="#444" stroke-width="0.70" stroke-linejoin="round" /><g stroke="#bdbdbd" stroke-width="0.5"><line x1="370.0" y1="57.9" x2="378.7" y2="55.5"/><line x1="372.3" y1="58.8" x2="380.9" y2="56.1"/><line x1="374.5" y1="59.7" x2="383.2" y2="56.8"/><line x1="376.8" y1="60.6" x2="385.4" y2="57.5"/><line x1="379.0" y1="61.5" x2="387.7" y2="58.2"/><line x1="381.3" y1="62.4" x2="389.9" y2="58.9"/><line x1="383.5" y1="63.3" x2="392.2" y2="59.6"/><line x1="385.8" y1="64.2" x2="394.4" y2="60.3"/><line x1="388.0" y1="65.1" x2="396.7" y2="61.0"/><line x1="390.3" y1="66.0" x2="398.9" y2="61.7"/><line x1="392.5" y1="66.9" x2="401.2" y2="62.4"/><line x1="394.8" y1="67.8" x2="403.4" y2="63.1"/><line x1="397.0" y1="68.7" x2="405.7" y2="63.7"/><line x1="399.3" y1="69.6" x2="407.9" y2="64.4"/><line x1="401.5" y1="70.5" x2="410.2" y2="65.1"/></g><polygon points="368.1,57.2 403.8,71.7 403.8,73.3 368.1,58.8" fill="#777" stroke="#444" stroke-width="0.50" stroke-linejoin="round" />
<polyline points="448.8,59.4 449.7,75.2" fill="none" stroke="#444" stroke-width="1.30" stroke-linecap="round" stroke-linejoin="round" /><polyline points="442.0,76.8 457.1,75.2" fill="none" stroke="#444" stroke-width="1.50" stroke-linecap="round" stroke-linejoin="round" /><polyline points="427.9,68.4 442.0,76.8" fill="none" stroke="#444" stroke-width="0.80" stroke-linecap="round" stroke-linejoin="round" /><circle cx="442.7" cy="77.4" r="1.2" fill="#aaa" stroke="#444" stroke-width="0.5"/><circle cx="457.1" cy="75.8" r="1.2" fill="#aaa" stroke="#444" stroke-width="0.5"/><circle cx="427.9" cy="68.7" r="1.2" fill="#aaa" stroke="#444" stroke-width="0.5"/><path d="M433.6 43.0 C435.8 40.3 445.0 40.3 448.8 41.1 C452.6 41.8 454.7 44.6 456.5 47.5 C458.2 50.5 459.6 55.5 459.4 58.8 C459.2 62.0 458.3 65.0 455.2 67.1 C452.1 69.3 443.9 73.3 440.7 71.6 C437.5 70.0 437.1 61.9 435.9 57.2 C434.7 52.4 431.5 45.7 433.6 43.0 Z" fill="#686868" stroke="#444" stroke-width="0.70" stroke-linejoin="round" stroke-linecap="round" /><polyline points="440.7,45.3 453.6,44.0" fill="none" stroke="#aaa" stroke-width="0.50" stroke-linecap="round" stroke-linejoin="round" /><polyline points="444.9,53.3 458.1,52.0" fill="none" stroke="#aaa" stroke-width="0.50" stroke-linecap="round" stroke-linejoin="round" /><polyline points="445.5,62.0 458.4,60.0" fill="none" stroke="#aaa" stroke-width="0.50" stroke-linecap="round" stroke-linejoin="round" /><path d="M449.1 41.7 C449.9 42.1 454.5 45.0 456.2 47.8 C457.8 50.7 459.2 55.6 459.1 58.8 C458.9 61.9 456.2 66.1 455.2 66.8 C454.2 67.5 453.2 65.4 452.9 62.9 C452.7 60.5 453.9 55.2 453.6 52.3 C453.3 49.4 452.1 47.3 451.3 45.6 C450.6 43.8 448.3 41.3 449.1 41.7 Z" fill="#8a8a8a" stroke="#444" stroke-width="0.50" stroke-linejoin="round" stroke-linecap="round" /><ellipse cx="433.3" cy="57.2" rx="10.6" ry="14.4" transform="rotate(-14 433.3 57.2)" fill="#e0e0e0" stroke="#444" stroke-width="0.8"/><ellipse cx="433.0" cy="57.2" rx="9" ry="12.8" transform="rotate(-14 433.0 57.2)" fill="#fff" stroke="#999" stroke-width="0.5"/><circle cx="448.4" cy="59.1" r="1.2" fill="#ddd" stroke="#333" stroke-width="0.6"/>
<polyline points="493.8,67.1 490.2,73.6" fill="none" stroke="#777" stroke-width="0.70" stroke-linecap="round" stroke-linejoin="round" /><polyline points="498.0,69.1 495.4,72.9" fill="none" stroke="#777" stroke-width="0.70" stroke-linecap="round" stroke-linejoin="round" /><polyline points="507.6,70.3 505.0,74.2" fill="none" stroke="#777" stroke-width="0.70" stroke-linecap="round" stroke-linejoin="round" /><polyline points="511.5,68.4 514.0,73.6" fill="none" stroke="#777" stroke-width="0.70" stroke-linecap="round" stroke-linejoin="round" /><ellipse cx="501.3" cy="54.6" rx="17.8" ry="16" fill="#fff" stroke="#555" stroke-width="0.8"/><ellipse cx="501.3" cy="54.6" rx="15.6" ry="14" fill="#fff" stroke="#888" stroke-width="0.6"/><ellipse cx="501.5" cy="55.4" rx="13.2" ry="12" fill="#a9a9a9" stroke="#555" stroke-width="0.7"/><polygon points="497.6,39.1 505.4,39.1 505.0,42.7 498.0,42.7" fill="#fff" stroke="#555" stroke-width="0.70" stroke-linejoin="round" />
<polyline points="520.7,39.4 523.1,74.0" fill="none" stroke="#444" stroke-width="0.90" stroke-linecap="round" stroke-linejoin="round" /><polyline points="523.1,39.4 525.2,58.5" fill="none" stroke="#444" stroke-width="0.70" stroke-linecap="round" stroke-linejoin="round" /><polyline points="561.4,42.2 563.1,63.8" fill="none" stroke="#444" stroke-width="0.90" stroke-linecap="round" stroke-linejoin="round" /><polyline points="559.0,41.8 560.6,60.5" fill="none" stroke="#444" stroke-width="0.70" stroke-linecap="round" stroke-linejoin="round" /><polygon points="518.7,38.1 561.4,41.0 561.4,42.6 518.7,39.8" fill="#ddd" stroke="#444" stroke-width="0.60" stroke-linejoin="round" /><ellipse cx="527.2" cy="37.3" rx="7" ry="1.5" fill="#eee" stroke="#666" stroke-width="0.5"/><ellipse cx="541.5" cy="42.6" rx="6" ry="1.4" fill="#eee" stroke="#666" stroke-width="0.5"/><ellipse cx="553.3" cy="43.0" rx="4.4" ry="1.3" fill="#eee" stroke="#666" stroke-width="0.5"/><polygon points="526.4,47.1 529.7,47.1 530.1,53.6 526.0,53.6" fill="#777" stroke="#444" stroke-width="0.50" stroke-linejoin="round" /><path d="M532.1 48.7 C532.4 48.1 533.3 47.4 533.7 47.9 C534.2 48.5 535.3 51.3 535.0 52.0 C534.6 52.7 532.2 52.5 531.7 52.0 C531.2 51.4 531.8 49.4 532.1 48.7 Z" fill="#999" stroke="#444" stroke-width="0.40" stroke-linejoin="round" stroke-linecap="round" /><polyline points="523.6,58.5 524.4,74.0" fill="none" stroke="#444" stroke-width="0.90" stroke-linecap="round" stroke-linejoin="round" /><polyline points="564.3,67.9 565.1,85.0" fill="none" stroke="#444" stroke-width="1.00" stroke-linecap="round" stroke-linejoin="round" /><polyline points="574.5,63.0 575.3,71.5" fill="none" stroke="#444" stroke-width="0.90" stroke-linecap="round" stroke-linejoin="round" /><polyline points="535.4,62.6 564.7,84.2" fill="none" stroke="#444" stroke-width="0.80" stroke-linecap="round" stroke-linejoin="round" /><polyline points="535.4,61.0 524.4,72.8" fill="none" stroke="#444" stroke-width="0.70" stroke-linecap="round" stroke-linejoin="round" /><polyline points="545.5,62.6 546.4,69.9" fill="none" stroke="#444" stroke-width="0.70" stroke-linecap="round" stroke-linejoin="round" /><polygon points="522.3,56.9 539.4,54.0 575.3,61.4 563.9,67.9" fill="#e8e8e8" stroke="#444" stroke-width="0.70" stroke-linejoin="round" /><polygon points="522.3,56.9 563.9,67.9 563.9,69.5 522.3,58.5" fill="#666" stroke="#444" stroke-width="0.50" stroke-linejoin="round" /><polygon points="563.9,67.9 575.3,61.4 575.3,63.0 563.9,69.5" fill="#555" stroke="#444" stroke-width="0.50" stroke-linejoin="round" /><polygon points="530.9,56.1 539.0,54.8 543.1,56.5 534.5,58.1" fill="#222" stroke-linejoin="round" /><polygon points="550.8,59.3 556.5,58.5 559.0,60.1 553.7,61.4" fill="#222" stroke-linejoin="round" /><polygon points="558.6,61.0 565.5,60.1 568.3,61.8 561.8,63.4" fill="#222" stroke-linejoin="round" /><path d="M547.2 58.5 C546.6 57.5 547.3 53.7 547.6 52.4 C547.9 51.1 548.4 50.8 548.8 50.8 C549.2 50.8 549.7 51.1 550.0 52.4 C550.4 53.7 551.3 57.5 550.8 58.5 C550.4 59.5 547.7 59.5 547.2 58.5 Z" fill="#f4f4f4" stroke="#666" stroke-width="0.50" stroke-linejoin="round" stroke-linecap="round" /><polyline points="552.5,52.4 553.3,58.5" fill="none" stroke="#888" stroke-width="0.60" stroke-linecap="round" stroke-linejoin="round" />
<polyline points="576.9,84.2 576.9,89.5" fill="none" stroke="#555" stroke-width="1.20" stroke-linecap="round" stroke-linejoin="round" /><polyline points="576.9,89.1 572.8,91.5" fill="none" stroke="#555" stroke-width="1.00" stroke-linecap="round" stroke-linejoin="round" /><polyline points="576.9,89.1 586.7,87.8" fill="none" stroke="#555" stroke-width="1.00" stroke-linecap="round" stroke-linejoin="round" /><polyline points="576.9,89.1 580.6,91.1" fill="none" stroke="#555" stroke-width="0.90" stroke-linecap="round" stroke-linejoin="round" /><path d="M567.9 74.0 C568.3 80.1 572.8 84.6 577.1 84.6 C581.8 84.6 585.9 80.1 586.3 74.0 Z" fill="#cfcfcf" stroke="#555" stroke-width="0.7"/><ellipse cx="577.1" cy="74.0" rx="9.2" ry="2.4" fill="#e6e6e6" stroke="#555" stroke-width="0.7"/><polyline points="576.1,69.9 576.9,76.4" fill="none" stroke="#666" stroke-width="0.60" stroke-linecap="round" stroke-linejoin="round" />
<path d="M587.2 63.9 C587.9 74.4 590.4 82.4 593.9 88.4 M618.4 63.9 C620.4 72.4 619.7 82.4 616.7 91.4" stroke="#5c5c5c" stroke-width="1.7" fill="none" stroke-linecap="round"/><path d="M592.3 87.9 L600.8 87.0 L623.3 94.4 L622.3 97.2 L593.3 90.8 Z" fill="#585858" stroke="#444" stroke-width="0.5" stroke-linejoin="round"/><path d="M608.8 89.9 l10 5.6" stroke="#4d4d4d" stroke-width="2.2" stroke-linecap="round"/><circle cx="592.5" cy="89.4" r="1.5" fill="#666" stroke="#444" stroke-width="0.5"/><circle cx="622.4" cy="97.0" r="1.4" fill="#666" stroke="#444" stroke-width="0.5"/><path d="M586.4 62.4 C587.9 75.0 594.6 83.4 603.3 83.4 C611.8 83.4 617.7 75.0 619.2 62.4 Z" fill="#787878" stroke="#4a4a4a" stroke-width="0.7"/><path d="M592.6 73.3 C597.9 79.2 607.7 79.6 613.0 75.4 L611.0 81.3 C606.1 85.1 597.9 84.5 593.8 79.6 Z" fill="#d9d9d9" stroke="#666" stroke-width="0.4"/><path d="M594.6 77.1 l14.8 3.4 M595.4 81.3 l13.1 2.2 M600.8 77.5 l3 3 M605.8 77.9 l3 2" stroke="#555" stroke-width="0.7" fill="none"/><path d="M595.4 65.2 L599.8 82.3 M606.4 65.4 L605.4 83.4 M614.3 64.8 L609.7 81.3" stroke="#4f4f4f" stroke-width="0.9" fill="none"/><ellipse cx="602.8" cy="62.4" rx="16.4" ry="2.7" fill="#848484" stroke="#4a4a4a" stroke-width="0.8"/><path d="M587.9 62.1 A14.9 2 0 0 1 617.7 62.1" fill="none" stroke="#a8a8a8" stroke-width="0.6"/><path d="M593.0 65.4 l3.6 1.3 l-3.3 2Z" fill="#fff" stroke="#333" stroke-width="0.5"/>
<path d="M619.4 70.0 C620.1 80.5 622.6 88.5 626.1 94.5 M648.6 70.0 C650.6 78.5 649.9 88.5 646.9 97.5" stroke="#5c5c5c" stroke-width="1.7" fill="none" stroke-linecap="round"/><path d="M623.5 94.0 L632.0 93.1 L654.5 100.5 L653.5 103.3 L624.5 96.9 Z" fill="#585858" stroke="#444" stroke-width="0.5" stroke-linejoin="round"/><path d="M640.0 96.0 l10 5.6" stroke="#4d4d4d" stroke-width="2.2" stroke-linecap="round"/><circle cx="623.7" cy="95.5" r="1.5" fill="#666" stroke="#444" stroke-width="0.5"/><circle cx="653.6" cy="103.1" r="1.4" fill="#666" stroke="#444" stroke-width="0.5"/><path d="M618.6 68.5 C620.1 81.1 626.3 89.5 634.5 89.5 C642.5 89.5 647.9 81.1 649.4 68.5 Z" fill="#787878" stroke="#4a4a4a" stroke-width="0.7"/><path d="M624.5 79.4 C629.4 85.3 638.6 85.7 643.5 81.5 L641.7 87.4 C637.1 91.2 629.4 90.5 625.5 85.7 Z" fill="#d9d9d9" stroke="#666" stroke-width="0.4"/><path d="M626.3 83.2 l13.9 3.4 M627.1 87.4 l12.3 2.2 M632.0 83.6 l3 3 M637.0 84.0 l3 2" stroke="#555" stroke-width="0.7" fill="none"/><path d="M627.1 71.3 L631.2 88.5 M637.4 71.5 L636.5 89.5 M644.8 70.9 L640.5 87.4" stroke="#4f4f4f" stroke-width="0.9" fill="none"/><ellipse cx="634.0" cy="68.5" rx="15.4" ry="2.7" fill="#848484" stroke="#4a4a4a" stroke-width="0.8"/><path d="M620.1 68.2 A13.9 2 0 0 1 647.9 68.2" fill="none" stroke="#a8a8a8" stroke-width="0.6"/><path d="M624.8 71.5 l3.6 1.3 l-3.3 2Z" fill="#fff" stroke="#333" stroke-width="0.5"/>
<path d="M648.4 74.9 C649.1 85.4 651.6 93.4 655.1 99.4 M678.8 74.9 C680.8 83.4 680.1 93.4 677.1 102.4" stroke="#5c5c5c" stroke-width="1.7" fill="none" stroke-linecap="round"/><path d="M653.1 98.9 L661.6 98.0 L684.1 105.4 L683.1 108.2 L654.1 101.8 Z" fill="#585858" stroke="#444" stroke-width="0.5" stroke-linejoin="round"/><path d="M669.6 100.9 l10 5.6" stroke="#4d4d4d" stroke-width="2.2" stroke-linecap="round"/><circle cx="653.3" cy="100.4" r="1.5" fill="#666" stroke="#444" stroke-width="0.5"/><circle cx="683.2" cy="108.0" r="1.4" fill="#666" stroke="#444" stroke-width="0.5"/><path d="M647.6 73.4 C649.1 86.3 655.6 94.9 664.1 94.9 C672.4 94.9 678.1 86.3 679.6 73.4 Z" fill="#787878" stroke="#4a4a4a" stroke-width="0.7"/><path d="M653.7 84.6 C658.8 90.6 668.4 91.0 673.5 86.7 L671.6 92.8 C666.8 96.6 658.8 96.0 654.8 91.0 Z" fill="#d9d9d9" stroke="#666" stroke-width="0.4"/><path d="M655.6 88.5 l14.4 3.4 M656.4 92.8 l12.8 2.2 M661.6 88.9 l3 3 M666.6 89.3 l3 2" stroke="#555" stroke-width="0.7" fill="none"/><path d="M656.4 76.2 L660.7 93.8 M667.1 76.4 L666.2 94.9 M674.8 75.8 L670.3 92.8" stroke="#4f4f4f" stroke-width="0.9" fill="none"/><ellipse cx="663.6" cy="73.4" rx="16.0" ry="2.7" fill="#848484" stroke="#4a4a4a" stroke-width="0.8"/><path d="M649.1 73.1 A14.5 2 0 0 1 678.1 73.1" fill="none" stroke="#a8a8a8" stroke-width="0.6"/><path d="M654.0 76.4 l3.6 1.3 l-3.3 2Z" fill="#fff" stroke="#333" stroke-width="0.5"/>
</g>
<g id="brass">
<path d="M309.4 141.8 C310.7 142.4 312.4 144.4 312.2 145.9 C312.0 147.4 309.1 149.4 308.0 150.8 C306.9 152.2 307.2 154.1 305.9 154.3 C304.6 154.5 302.0 153.2 300.3 152.2 C298.6 151.1 296.6 149.2 295.5 148.0 C294.4 146.8 293.0 145.4 293.6 144.8 C294.2 144.2 297.1 144.7 298.9 144.3 C300.7 143.9 302.8 142.9 304.5 142.5 C306.2 142.1 308.1 141.2 309.4 141.8 Z" fill="#cbcbcb" stroke="#777" stroke-width="0.60" stroke-linejoin="round" stroke-linecap="round" /><circle cx="305.9" cy="135.5" r="8.6" fill="#a8a8a8" stroke="#555" stroke-width="0.8"/><circle cx="305.9" cy="135.5" r="7.1" fill="none" stroke="#4c4c4c" stroke-width="0.55"/><circle cx="305.9" cy="135.5" r="5.7" fill="#b8b8b8" stroke="#5a5a5a" stroke-width="0.5"/><path d="M301.5 134.3 a4.6 4.6 0 0 1 8.4 -1.6 M302.3 137.5 a3.4 3.4 0 0 0 6.6 1.2 M301.7 135.3 l7.6 1.6 M302.1 136.9 l7.2 1.6" stroke="#3c3c3c" stroke-width="0.7" fill="none"/><path d="M303.3 130.7 l0.5 3.4 M305.5 130.9 l0.5 3.4 M307.7 131.3 l0.5 3.4" stroke="#444" stroke-width="1.1" fill="none"/><path d="M310.1 134.5 q3 3.4 1.2 6.8" stroke="#555" stroke-width="0.7" fill="none"/><path d="M302.4 127.6 l-8.6 -1.2" stroke="#666" stroke-width="0.7"/>
<path d="M335.2 132.8 C336.5 133.4 338.2 135.4 338.0 136.9 C337.8 138.4 334.9 140.4 333.8 141.8 C332.8 143.2 333.0 145.1 331.7 145.3 C330.4 145.5 327.8 144.2 326.1 143.2 C324.4 142.1 322.4 140.2 321.3 139.0 C320.2 137.8 318.8 136.4 319.4 135.8 C320.0 135.2 322.9 135.7 324.7 135.3 C326.5 134.9 328.6 133.9 330.3 133.5 C332.1 133.1 333.9 132.2 335.2 132.8 Z" fill="#cbcbcb" stroke="#777" stroke-width="0.60" stroke-linejoin="round" stroke-linecap="round" /><circle cx="331.7" cy="126.5" r="8.6" fill="#a8a8a8" stroke="#555" stroke-width="0.8"/><circle cx="331.7" cy="126.5" r="7.1" fill="none" stroke="#4c4c4c" stroke-width="0.55"/><circle cx="331.7" cy="126.5" r="5.7" fill="#b8b8b8" stroke="#5a5a5a" stroke-width="0.5"/><path d="M327.3 125.3 a4.6 4.6 0 0 1 8.4 -1.6 M328.1 128.5 a3.4 3.4 0 0 0 6.6 1.2 M327.5 126.3 l7.6 1.6 M327.9 127.9 l7.2 1.6" stroke="#3c3c3c" stroke-width="0.7" fill="none"/><path d="M329.1 121.7 l0.5 3.4 M331.3 121.9 l0.5 3.4 M333.5 122.3 l0.5 3.4" stroke="#444" stroke-width="1.1" fill="none"/><path d="M335.9 125.5 q3 3.4 1.2 6.8" stroke="#555" stroke-width="0.7" fill="none"/><path d="M328.2 118.6 l-8.6 -1.2" stroke="#666" stroke-width="0.7"/>
<path d="M361.7 125.8 C363.0 126.4 364.7 128.4 364.5 129.9 C364.3 131.4 361.4 133.4 360.3 134.8 C359.2 136.2 359.5 138.1 358.2 138.3 C356.9 138.5 354.3 137.2 352.6 136.2 C350.9 135.1 348.9 133.2 347.8 132.0 C346.7 130.8 345.3 129.4 345.9 128.8 C346.5 128.2 349.4 128.7 351.2 128.3 C353.0 127.9 355.1 126.9 356.8 126.5 C358.6 126.1 360.4 125.2 361.7 125.8 Z" fill="#cbcbcb" stroke="#777" stroke-width="0.60" stroke-linejoin="round" stroke-linecap="round" /><circle cx="358.2" cy="119.5" r="8.6" fill="#a8a8a8" stroke="#555" stroke-width="0.8"/><circle cx="358.2" cy="119.5" r="7.1" fill="none" stroke="#4c4c4c" stroke-width="0.55"/><circle cx="358.2" cy="119.5" r="5.7" fill="#b8b8b8" stroke="#5a5a5a" stroke-width="0.5"/><path d="M353.8 118.3 a4.6 4.6 0 0 1 8.4 -1.6 M354.6 121.5 a3.4 3.4 0 0 0 6.6 1.2 M354.0 119.3 l7.6 1.6 M354.4 120.9 l7.2 1.6" stroke="#3c3c3c" stroke-width="0.7" fill="none"/><path d="M355.6 114.7 l0.5 3.4 M357.8 114.9 l0.5 3.4 M360.0 115.3 l0.5 3.4" stroke="#444" stroke-width="1.1" fill="none"/><path d="M362.4 118.5 q3 3.4 1.2 6.8" stroke="#555" stroke-width="0.7" fill="none"/><path d="M354.7 111.6 l-8.6 -1.2" stroke="#666" stroke-width="0.7"/>
<path d="M388.1 120.2 C389.4 120.8 391.1 122.8 390.9 124.3 C390.7 125.8 387.8 127.8 386.7 129.2 C385.7 130.6 385.9 132.5 384.6 132.7 C383.3 132.9 380.7 131.7 379.0 130.6 C377.3 129.5 375.3 127.6 374.2 126.4 C373.1 125.2 371.7 123.8 372.3 123.2 C372.9 122.6 375.8 123.1 377.6 122.7 C379.4 122.3 381.5 121.3 383.2 120.9 C385.0 120.5 386.8 119.6 388.1 120.2 Z" fill="#cbcbcb" stroke="#777" stroke-width="0.60" stroke-linejoin="round" stroke-linecap="round" /><circle cx="384.6" cy="113.9" r="8.6" fill="#a8a8a8" stroke="#555" stroke-width="0.8"/><circle cx="384.6" cy="113.9" r="7.1" fill="none" stroke="#4c4c4c" stroke-width="0.55"/><circle cx="384.6" cy="113.9" r="5.7" fill="#b8b8b8" stroke="#5a5a5a" stroke-width="0.5"/><path d="M380.2 112.7 a4.6 4.6 0 0 1 8.4 -1.6 M381.0 115.9 a3.4 3.4 0 0 0 6.6 1.2 M380.4 113.7 l7.6 1.6 M380.8 115.3 l7.2 1.6" stroke="#3c3c3c" stroke-width="0.7" fill="none"/><path d="M382.0 109.1 l0.5 3.4 M384.2 109.3 l0.5 3.4 M386.4 109.7 l0.5 3.4" stroke="#444" stroke-width="1.1" fill="none"/><path d="M388.8 112.9 q3 3.4 1.2 6.8" stroke="#555" stroke-width="0.7" fill="none"/><path d="M381.1 106.0 l-8.6 -1.2" stroke="#666" stroke-width="0.7"/>
<g transform="translate(419.60 97.00) rotate(85.37)"><path d="M0,-0.4 L15.5,-0.5 L15.5,0.5 L0,0.4Z" fill="#e4e4e4" stroke="#979797" stroke-width="0.45"/><path d="M14.0,-0.6 L24.0,-0.8 C27.0,-1.1 29.5,-2.2 31.0,-3.4 L31.0,3.4 C29.5,2.2 27.0,1.1 24.0,0.8 L14.0,0.6Z" fill="#e6e6e6" stroke="#979797" stroke-width="0.45"/><rect x="6.2" y="-3.8" width="16.1" height="3.2" rx="1.3" fill="#ececec" stroke="#979797" stroke-width="0.45"/><rect x="9.3" y="0.6" width="10.5" height="2.4" rx="1.1" fill="#ececec" stroke="#979797" stroke-width="0.45"/><path d="M11.2,-4.4 L11.2,3 M13.6,-4.4 L13.6,3 M16.1,-4.4 L16.1,3" stroke="#979797" stroke-width="0.95"/></g>
<g transform="translate(449.20 94.40) rotate(83.19)"><path d="M0,-0.4 L16.0,-0.5 L16.0,0.5 L0,0.4Z" fill="#e4e4e4" stroke="#979797" stroke-width="0.45"/><path d="M14.4,-0.6 L25.0,-0.8 C28.0,-1.1 30.5,-2.2 32.0,-3.4 L32.0,3.4 C30.5,2.2 28.0,1.1 25.0,0.8 L14.4,0.6Z" fill="#e6e6e6" stroke="#979797" stroke-width="0.45"/><rect x="6.4" y="-3.8" width="16.7" height="3.2" rx="1.3" fill="#ececec" stroke="#979797" stroke-width="0.45"/><rect x="9.6" y="0.6" width="10.9" height="2.4" rx="1.1" fill="#ececec" stroke="#979797" stroke-width="0.45"/><path d="M11.5,-4.4 L11.5,3 M14.1,-4.4 L14.1,3 M16.7,-4.4 L16.7,3" stroke="#979797" stroke-width="0.95"/></g>
<g transform="translate(504.50 94.40) rotate(92.55)"><path d="M0,-0.4 L15.7,-0.5 L15.7,0.5 L0,0.4Z" fill="#e4e4e4" stroke="#979797" stroke-width="0.45"/><path d="M14.1,-0.6 L24.4,-0.8 C27.4,-1.1 29.9,-2.2 31.4,-3.4 L31.4,3.4 C29.9,2.2 27.4,1.1 24.4,0.8 L14.1,0.6Z" fill="#e6e6e6" stroke="#979797" stroke-width="0.45"/><rect x="6.3" y="-3.8" width="16.3" height="3.2" rx="1.3" fill="#ececec" stroke="#979797" stroke-width="0.45"/><rect x="9.4" y="0.6" width="10.7" height="2.4" rx="1.1" fill="#ececec" stroke="#979797" stroke-width="0.45"/><path d="M11.3,-4.4 L11.3,3 M13.8,-4.4 L13.8,3 M16.3,-4.4 L16.3,3" stroke="#979797" stroke-width="0.95"/></g>
<g transform="translate(538.80 96.10) rotate(96.46)"><path d="M0,-0.4 L15.5,-0.5 L15.5,0.5 L0,0.4Z" fill="#e4e4e4" stroke="#979797" stroke-width="0.45"/><path d="M14.0,-0.6 L24.1,-0.8 C27.1,-1.1 29.6,-2.2 31.1,-3.4 L31.1,3.4 C29.6,2.2 27.1,1.1 24.1,0.8 L14.0,0.6Z" fill="#e6e6e6" stroke="#979797" stroke-width="0.45"/><rect x="6.2" y="-3.8" width="16.2" height="3.2" rx="1.3" fill="#ececec" stroke="#979797" stroke-width="0.45"/><rect x="9.3" y="0.6" width="10.6" height="2.4" rx="1.1" fill="#ececec" stroke="#979797" stroke-width="0.45"/><path d="M11.2,-4.4 L11.2,3 M13.7,-4.4 L13.7,3 M16.2,-4.4 L16.2,3" stroke="#979797" stroke-width="0.95"/></g>
<ellipse cx="575.9" cy="114.0" rx="4.2" ry="2" fill="#dedede" stroke="#999" stroke-width="0.5"/><path d="M572.6 104.7 L574.9 101.0 L577.8 101.0 L578.6 112.8 L573.2 113.2 Z" fill="#f4f4f4" stroke="#858585" stroke-width="0.6" stroke-linejoin="round"/><path d="M574.9 101.0 L575.5 105.5 L578.1 104.5" fill="none" stroke="#9a9a9a" stroke-width="0.5"/><path d="M568.8 105.9 L562.3 130.8 C562.0 132.3 564.9 133.0 565.3 131.6 L571.8 106.7" fill="#fff" stroke="#777" stroke-width="0.6"/><path d="M569.9 102.1 L568.8 105.9" stroke="#777" stroke-width="0.6"/>
<ellipse cx="605.6" cy="118.8" rx="4.2" ry="2" fill="#dedede" stroke="#999" stroke-width="0.5"/><path d="M602.3 109.5 L604.6 105.8 L607.5 105.8 L608.3 117.6 L602.9 118.0 Z" fill="#f4f4f4" stroke="#858585" stroke-width="0.6" stroke-linejoin="round"/><path d="M604.6 105.8 L605.2 110.3 L607.8 109.3" fill="none" stroke="#9a9a9a" stroke-width="0.5"/><path d="M596.9 110.8 L592.1 135.7 C591.8 137.2 594.8 137.8 595.1 136.3 L599.9 111.4" fill="#fff" stroke="#777" stroke-width="0.6"/><path d="M597.7 106.9 L596.9 110.8" stroke="#777" stroke-width="0.6"/>
<ellipse cx="637.0" cy="128.0" rx="4.2" ry="2" fill="#dedede" stroke="#999" stroke-width="0.5"/><path d="M633.7 118.7 L636.0 115.0 L638.9 115.0 L639.7 126.8 L634.3 127.2 Z" fill="#f4f4f4" stroke="#858585" stroke-width="0.6" stroke-linejoin="round"/><path d="M636.0 115.0 L636.6 119.5 L639.2 118.5" fill="none" stroke="#9a9a9a" stroke-width="0.5"/><path d="M628.7 119.7 L625.0 144.6 C624.8 146.1 627.8 146.5 628.0 145.0 L631.7 120.1" fill="#fff" stroke="#777" stroke-width="0.6"/><path d="M629.3 115.7 L628.7 119.7" stroke="#777" stroke-width="0.6"/>
<path d="M668.6 130.1 C670.4 129.0 673.6 127.7 675.7 128.1 C677.8 128.6 680.0 130.5 681.2 132.7 C682.4 135.0 682.7 138.6 683.0 141.6 C683.2 144.6 683.2 147.5 682.6 150.5 C682.0 153.4 681.0 157.4 679.3 159.3 C677.5 161.2 674.5 161.8 672.2 161.8 C669.8 161.8 667.0 160.8 665.1 159.3 C663.1 157.9 661.0 156.1 660.5 153.1 C659.9 150.2 661.0 144.7 661.7 141.6 C662.4 138.5 663.7 136.4 664.9 134.5 C666.0 132.6 666.8 131.1 668.6 130.1 Z" fill="#bdbdbd" stroke="#777" stroke-width="0.70" stroke-linejoin="round" stroke-linecap="round" /><path d="M683.0 130.1 C684.4 129.0 690.5 131.7 691.7 133.6 C692.8 135.5 690.8 138.8 690.1 141.6 C689.3 144.4 688.4 147.8 687.2 150.5 C686.1 153.1 684.5 155.8 683.0 157.6 C681.5 159.3 679.3 161.2 678.2 161.1 C677.1 161.0 676.1 158.7 676.6 156.7 C677.1 154.6 679.9 151.5 681.0 148.7 C682.2 145.9 683.0 142.9 683.3 139.8 C683.7 136.7 681.6 131.1 683.0 130.1 Z" fill="#c6c6c6" stroke="#777" stroke-width="0.60" stroke-linejoin="round" stroke-linecap="round" /><path d="M669.7 132.4 C671.1 131.5 673.7 130.4 675.4 130.8 C677.0 131.2 678.8 132.7 679.8 134.7 C680.7 136.6 680.9 139.9 681.0 142.5 C681.1 145.1 681.1 148.0 680.5 150.5 C679.8 152.9 678.6 155.9 677.1 157.4 C675.7 158.9 673.6 159.4 671.8 159.3 C670.0 159.3 667.9 158.3 666.5 157.0 C665.0 155.8 663.5 154.3 663.1 151.9 C662.7 149.5 663.6 145.1 664.2 142.5 C664.8 139.8 665.8 137.6 666.7 135.9 C667.6 134.2 668.2 133.2 669.7 132.4 Z" fill="#d4d4d4" stroke="#6a6a6a" stroke-width="0.55" stroke-linejoin="round" stroke-linecap="round" /><path d="M670.9 134.7 C672.1 133.9 673.9 132.9 675.2 133.3 C676.4 133.6 677.7 134.9 678.4 136.6 C679.0 138.3 679.2 141.1 679.3 143.4 C679.3 145.7 679.1 148.5 678.5 150.5 C678.0 152.5 677.0 154.3 675.9 155.4 C674.8 156.5 673.2 157.1 671.8 157.0 C670.4 157.0 668.8 156.1 667.7 155.1 C666.6 154.0 665.5 152.8 665.2 150.8 C665.0 148.8 665.6 145.4 666.1 143.2 C666.6 141.0 667.5 139.1 668.3 137.7 C669.1 136.3 669.8 135.4 670.9 134.7 Z" fill="#c0c0c0" stroke="#6a6a6a" stroke-width="0.50" stroke-linejoin="round" stroke-linecap="round" /><polygon points="669.9,143.2 672.7,143.5 672.3,149.0 669.5,148.7" fill="#f2f2f2" stroke="#555" stroke-width="0.50" stroke-linejoin="round" /><polygon points="673.4,140.7 676.6,141.1 676.2,148.0 673.0,147.6" fill="#f2f2f2" stroke="#555" stroke-width="0.50" stroke-linejoin="round" /><polygon points="676.6,144.3 679.8,144.6 679.4,150.6 676.2,150.3" fill="#f2f2f2" stroke="#555" stroke-width="0.50" stroke-linejoin="round" /><path d="M667.4 152.2 C667.8 151.5 669.9 150.7 670.9 150.8 C671.9 151.0 673.2 152.3 673.2 153.1 C673.3 154.0 672.1 155.6 671.3 156.0 C670.4 156.3 668.7 156.0 668.1 155.4 C667.4 154.8 666.9 153.0 667.4 152.2 Z" fill="#f4f4f4" stroke="#666" stroke-width="0.50" stroke-linejoin="round" stroke-linecap="round" /><polyline points="668.3,141.6 680.1,144.3" fill="none" stroke="#555" stroke-width="0.60" stroke-linecap="round" stroke-linejoin="round" /><polyline points="667.4,146.0 679.3,149.0" fill="none" stroke="#555" stroke-width="0.60" stroke-linecap="round" stroke-linejoin="round" /><polyline points="671.8,134.0 673.2,141.6" fill="none" stroke="#555" stroke-width="0.60" stroke-linecap="round" stroke-linejoin="round" /><polyline points="675.4,133.8 676.2,140.7" fill="none" stroke="#555" stroke-width="0.60" stroke-linecap="round" stroke-linejoin="round" /><polyline points="670.0,135.9 670.9,143.0" fill="none" stroke="#555" stroke-width="0.50" stroke-linecap="round" stroke-linejoin="round" /><polyline points="674.8,150.5 676.6,156.7" fill="none" stroke="#555" stroke-width="0.60" stroke-linecap="round" stroke-linejoin="round" /><polyline points="677.5,151.3 678.5,155.1" fill="none" stroke="#555" stroke-width="0.50" stroke-linecap="round" stroke-linejoin="round" /><ellipse cx="689.5" cy="129.6" rx="9.6" ry="3.6" transform="rotate(24 689.5 129.6)" fill="#cdcdcd" stroke="#858585" stroke-width="0.7"/><ellipse cx="689.7" cy="130.0" rx="7.6" ry="2.3" transform="rotate(24 689.7 130.0)" fill="#b9b9b9" stroke="#999" stroke-width="0.4"/><polyline points="688.3,140.7 693.1,141.8" fill="none" stroke="#666" stroke-width="0.90" stroke-linecap="round" stroke-linejoin="round" /><circle cx="693.6" cy="142.0" r="1.1" fill="#ddd" stroke="#555" stroke-width="0.5"/>
</g>
<g id="woodwinds">
<g transform="translate(363.80 149.70) rotate(80.54)"><path d="M0,-0.8 L8.2,-1.6 L32.8,-1.7 C35.3,-1.9 38.3,-2.8 40.8,-3.5 L40.8,3.5 C38.3,2.8 35.3,1.9 32.8,1.7 L8.2,1.6 L0,0.8Z" fill="#4a4a4a" stroke="#2a2a2a" stroke-width="0.4"/><path d="M7.3,-0.5 L31.8,-0.5" stroke="#c4c4c4" stroke-width="1.2" stroke-dasharray="1.5 1.1"/><path d="M10.2,0.9 L31.8,0.9" stroke="#8e8e8e" stroke-width="0.8" stroke-dasharray="1 1.6"/><path d="M8.2,-1.9 L8.2,1.9 M22.4,-1.9 L22.4,1.9" stroke="#999" stroke-width="0.7"/></g>
<g transform="translate(418.30 141.30) rotate(85.87)"><path d="M0,-0.8 L8.1,-1.6 L32.3,-1.7 C34.8,-1.9 37.8,-2.8 40.3,-3.5 L40.3,3.5 C37.8,2.8 34.8,1.9 32.3,1.7 L8.1,1.6 L0,0.8Z" fill="#4a4a4a" stroke="#2a2a2a" stroke-width="0.4"/><path d="M7.3,-0.5 L31.3,-0.5" stroke="#c4c4c4" stroke-width="1.2" stroke-dasharray="1.5 1.1"/><path d="M10.1,0.9 L31.3,0.9" stroke="#8e8e8e" stroke-width="0.8" stroke-dasharray="1 1.6"/><path d="M8.1,-1.9 L8.1,1.9 M22.2,-1.9 L22.2,1.9" stroke="#999" stroke-width="0.7"/></g>
<g transform="translate(398.60 195.70) rotate(82.28)"><path d="M0,-0.6 L16.9,-0.7 L17.5,-1.5 L46.9,-1.5 L46.9,1.5 L17.5,1.5 L16.9,0.7 L0,0.6Z" fill="#3a3a3a" stroke="#222" stroke-width="0.35"/><path d="M18.9,0.2 L45.4,0.2" stroke="#c4c4c4" stroke-width="1.1" stroke-dasharray="1.2 1.1"/><path d="M31.0,-1.6 L32.8,-3.2 L34.7,-1.6" stroke="#444" stroke-width="0.9" fill="#777"/></g>
<g transform="translate(439.60 188.40) rotate(87.89)"><path d="M0,-0.6 L15.7,-0.7 L16.3,-1.5 L46.1,-1.5 L46.1,1.5 L16.3,1.5 L15.7,0.7 L0,0.6Z" fill="#3a3a3a" stroke="#222" stroke-width="0.35"/><path d="M17.7,0.2 L44.6,0.2" stroke="#c4c4c4" stroke-width="1.1" stroke-dasharray="1.2 1.1"/><path d="M30.4,-1.6 L32.3,-3.2 L34.1,-1.6" stroke="#444" stroke-width="0.9" fill="#777"/></g>
<g transform="translate(534.80 138.10) rotate(92.61)"><path d="M0,-1.1 L46.1,-2.0 L46.1,2.0 L0,1.1Z" fill="#c3c3c3" stroke="#5e5e5e" stroke-width="0.6"/><path d="M1,0 L45.1,0" stroke="#7a7a7a" stroke-width="0.55"/><path d="M6.9,-0.9 L42.5,-0.9 M9.2,1.0 L44.3,1.0" stroke="#6a6a6a" stroke-width="0.75" stroke-dasharray="1.5 1.1"/><path d="M14.8,-1.7 L16.6,-4.2 L19.4,-3.8" stroke="#6e6e6e" stroke-width="0.7" fill="none"/></g>
<g transform="translate(592.30 148.60) rotate(99.21)"><path d="M0,-1.1 L45.6,-2.0 L45.6,2.0 L0,1.1Z" fill="#c3c3c3" stroke="#5e5e5e" stroke-width="0.6"/><path d="M1,0 L44.6,0" stroke="#7a7a7a" stroke-width="0.55"/><path d="M6.8,-0.9 L41.9,-0.9 M9.1,1.0 L43.8,1.0" stroke="#6a6a6a" stroke-width="0.75" stroke-dasharray="1.5 1.1"/><path d="M14.6,-1.7 L16.4,-4.2 L19.1,-3.8" stroke="#6e6e6e" stroke-width="0.7" fill="none"/></g>
<g transform="translate(514.90 180.00) rotate(90.00)"><path d="M0,-0.3 L6.7,-0.55 L8.3,-1.4 L50.5,-1.7 L55.5,-2.3 L55.5,2.3 L50.5,1.7 L8.3,1.4 L6.7,0.55 L0,0.3Z" fill="#3c3c3c" stroke="#262626" stroke-width="0.35"/><path d="M11.1,-0.3 L49.5,-0.3" stroke="#b0b0b0" stroke-width="1.0" stroke-dasharray="1.3 1.4"/><path d="M16.6,1.0 L47.5,1.0" stroke="#7c7c7c" stroke-width="0.7" stroke-dasharray="0.9 1.9"/><path d="M53.3,-1.8 L53.3,1.8" stroke="#8e8e8e" stroke-width="2.6"/></g>
<g transform="translate(568.70 187.30) rotate(97.01)"><path d="M0,-0.3 L6.6,-0.55 L8.2,-1.4 L49.9,-1.7 L54.9,-2.3 L54.9,2.3 L49.9,1.7 L8.2,1.4 L6.6,0.55 L0,0.3Z" fill="#3c3c3c" stroke="#262626" stroke-width="0.35"/><path d="M11.0,-0.3 L48.9,-0.3" stroke="#b0b0b0" stroke-width="1.0" stroke-dasharray="1.3 1.4"/><path d="M16.5,1.0 L46.9,1.0" stroke="#7c7c7c" stroke-width="0.7" stroke-dasharray="0.9 1.9"/><path d="M52.7,-1.8 L52.7,1.8" stroke="#8e8e8e" stroke-width="2.6"/></g>
<g transform="translate(613.30 199.50) rotate(101.53)"><path d="M0,-0.3 L6.7,-0.9 L11.1,-1.7 L46.5,-1.9 C49.0,-3.8 53.0,-3.8 55.5,-1.8 L55.5,1.8 C53.0,3.8 49.0,3.8 46.5,1.9 L11.1,1.7 L6.7,0.9 L0,0.3Z" fill="#1e1e1e" stroke="#111" stroke-width="0.4"/><path d="M13.9,0.1 L45.5,0.1" stroke="#8a8a8a" stroke-width="0.9" stroke-dasharray="1.3 1.5"/></g>
<g transform="translate(635.70 158.00) rotate(103.43)"><path d="M3,-4.2 C-1,-4.4 -1,-0.2 2.6,-0.2 L44.1,-0.2 C46.4,-0.2 46.4,-2.6 44.1,-2.6 Z" fill="#b4b4b4" stroke="#4e4e4e" stroke-width="0.65"/><path d="M2.4,-0.2 C-1,0 -1,4.4 2.8,4.2 L36.5,2.4 C39.3,2.4 39.3,-0.2 36.5,-0.2 Z" fill="#c2c2c2" stroke="#4e4e4e" stroke-width="0.65"/><path d="M4,-3 L41.6,-1.8 M4,2.8 L33.8,1.4" stroke="#555" stroke-width="1.0" stroke-dasharray="1.3 0.9"/><path d="M4,-1.6 L42.6,-1 M4,1.3 L34.7,0.6" stroke="#999" stroke-width="0.5"/><path d="M18.3,-3.6 L22.8,-7.6 L28.8,-8.6" stroke="#6e6e6e" stroke-width="1.1" fill="none" stroke-linecap="round" stroke-linejoin="round"/></g>
</g>
<g id="labels" opacity="0.999" stroke="#111" stroke-width="0.25">
<text x="280.1" y="60.4" font-size="7.0" font-style="italic" textLength="48.3" lengthAdjust="spacingAndGlyphs" text-anchor="start" fill="#000" stroke-width="0.18">Tubular Bells</text>
<text x="308.2" y="92.4" font-size="7.2" textLength="23.0" lengthAdjust="spacingAndGlyphs" transform="rotate(-1.0 308.2 92.4)" text-anchor="start" fill="#000" stroke-width="0.18">Snare</text>
<text x="307.8" y="100.0" font-size="7.2" textLength="21.2" lengthAdjust="spacingAndGlyphs" transform="rotate(-1.0 307.8 100.0)" text-anchor="start" fill="#000" stroke-width="0.18">Drum</text>
<text x="350.9" y="101.6" font-size="7.3" textLength="29.9" lengthAdjust="spacingAndGlyphs" transform="rotate(-7.9 350.9 101.6)" text-anchor="start" fill="#000" stroke-width="0.18">Celesta</text>
<text x="364.6" y="54.0" font-size="7.3" textLength="48.2" lengthAdjust="spacingAndGlyphs" text-anchor="start" fill="#000" stroke-width="0.18">Glockenspiel</text>
<text x="427.9" y="87.7" font-size="7.5" textLength="43.4" lengthAdjust="spacingAndGlyphs" text-anchor="start" fill="#000" stroke-width="0.18">Bass Drum</text>
<text x="490.2" y="81.6" font-size="7.3" textLength="21.3" lengthAdjust="spacingAndGlyphs" text-anchor="start" fill="#000" stroke-width="0.18">Gong</text>
<text x="529.3" y="27.9" font-size="7.0" textLength="88.4" lengthAdjust="spacingAndGlyphs" text-anchor="start" fill="#000" stroke-width="0.18">Percussion table holding</text>
<text x="529.3" y="34.5" font-size="7.0" textLength="105.8" lengthAdjust="spacingAndGlyphs" text-anchor="start" fill="#000" stroke-width="0.18">small percussive instruments</text>
<text x="627.4" y="64.2" font-size="7.3" textLength="29.5" lengthAdjust="spacingAndGlyphs" text-anchor="start" fill="#000" stroke-width="0.18">Timpani</text>
<text x="652.8" y="121.9" font-size="8.0" textLength="19.6" lengthAdjust="spacingAndGlyphs" transform="rotate(14.0 652.8 121.9)" text-anchor="start" fill="#000" stroke-width="0.18">Tuba</text>
<text x="431.6" y="140.8" font-size="8.8" textLength="38.0" lengthAdjust="spacingAndGlyphs" transform="rotate(-1.2 431.6 140.8)" text-anchor="start" fill="#000" stroke-width="0.20">Trumpets</text>
<text x="545.1" y="142.4" font-size="9.1" textLength="45.5" lengthAdjust="spacingAndGlyphs" transform="rotate(8.7 545.1 142.4)" text-anchor="start" fill="#000" stroke-width="0.20">Trombones</text>
<text x="302.7" y="172.3" font-size="10.0" textLength="58.4" lengthAdjust="spacingAndGlyphs" transform="rotate(-16.3 302.7 172.3)" text-anchor="start" fill="#000" stroke-width="0.20">French Horns</text>
<text x="379.6" y="179.3" font-size="10.2" textLength="37.7" lengthAdjust="spacingAndGlyphs" transform="rotate(-8.4 379.6 179.3)" text-anchor="start" fill="#000" stroke-width="0.20">Clarinets</text>
<text x="362.2" y="240.0" font-size="10.0" textLength="32.7" lengthAdjust="spacingAndGlyphs" transform="rotate(-16.5 362.2 240.0)" text-anchor="start" fill="#000" stroke-width="0.20">Piccolo</text>
<text x="410.4" y="228.0" font-size="10.0" textLength="26.4" lengthAdjust="spacingAndGlyphs" transform="rotate(-3.8 410.4 228.0)" text-anchor="start" fill="#000" stroke-width="0.20">Flutes</text>
<text x="308.0" y="276.4" font-size="10.4" textLength="22.8" lengthAdjust="spacingAndGlyphs" transform="rotate(-25.4 308.0 276.4)" text-anchor="start" fill="#000" stroke-width="0.20">Harp</text>
<text x="539.6" y="172.7" font-size="9.2" textLength="41.8" lengthAdjust="spacingAndGlyphs" transform="rotate(8.6 539.6 172.7)" text-anchor="start" fill="#000" stroke-width="0.20">Bassoons</text>
<text x="644.9" y="192.3" font-size="10.0" textLength="32.5" lengthAdjust="spacingAndGlyphs" transform="rotate(23.8 644.9 192.3)" text-anchor="start" fill="#000" stroke-width="0.20">Contra-</text>
<text x="637.0" y="198.1" font-size="10.0" textLength="43.4" lengthAdjust="spacingAndGlyphs" transform="rotate(23.6 637.0 198.1)" text-anchor="start" fill="#000" stroke-width="0.20">bassoons</text>
<text x="525.4" y="226.3" font-size="10.3" textLength="28.9" lengthAdjust="spacingAndGlyphs" transform="rotate(5.8 525.4 226.3)" text-anchor="start" fill="#000" stroke-width="0.20">Oboes</text>
<text x="621.7" y="240.9" font-size="10.0" textLength="17.4" lengthAdjust="spacingAndGlyphs" transform="rotate(20.5 621.7 240.9)" text-anchor="start" fill="#000" stroke-width="0.20">Cor</text>
<text x="609.9" y="245.9" font-size="10.0" textLength="33.5" lengthAdjust="spacingAndGlyphs" transform="rotate(20.3 609.9 245.9)" text-anchor="start" fill="#000" stroke-width="0.20">anglais</text>
<text x="231.4" y="324.0" font-size="11.0" textLength="30.8" lengthAdjust="spacingAndGlyphs" transform="rotate(-32.0 231.4 324.0)" text-anchor="start" fill="#000" stroke-width="0.22">Piano</text>
<text x="280.8" y="388.2" font-size="14.6" textLength="76.0" lengthAdjust="spacingAndGlyphs" transform="rotate(40.3 280.8 388.2)" text-anchor="start" fill="#000" stroke-width="0.22">Second violins</text>
<text x="205.5" y="578.0" font-size="16.0" font-style="italic" textLength="70.3" lengthAdjust="spacingAndGlyphs" text-anchor="start" fill="#000" stroke-width="0.22">First violins</text>
<text x="556.4" y="436.0" font-size="13.2" textLength="31.5" lengthAdjust="spacingAndGlyphs" transform="rotate(-36.0 556.4 436.0)" text-anchor="start" fill="#000" stroke-width="0.22">Violas</text>
<text x="664.2" y="580.0" font-size="15.0" textLength="39.3" lengthAdjust="spacingAndGlyphs" text-anchor="start" fill="#000" stroke-width="0.22">Cellos</text>
<text x="783.4" y="570.0" font-size="15.0" textLength="84.4" lengthAdjust="spacingAndGlyphs" transform="rotate(-1.2 783.4 570.0)" text-anchor="start" fill="#000" stroke-width="0.22">Double bases</text>
</g>
<path id="underline" d="M205 580.6 L276 580.6" stroke="#d0d0d0" stroke-width="0.9" stroke-dasharray="7 4"/>
</svg>
</body></html>
